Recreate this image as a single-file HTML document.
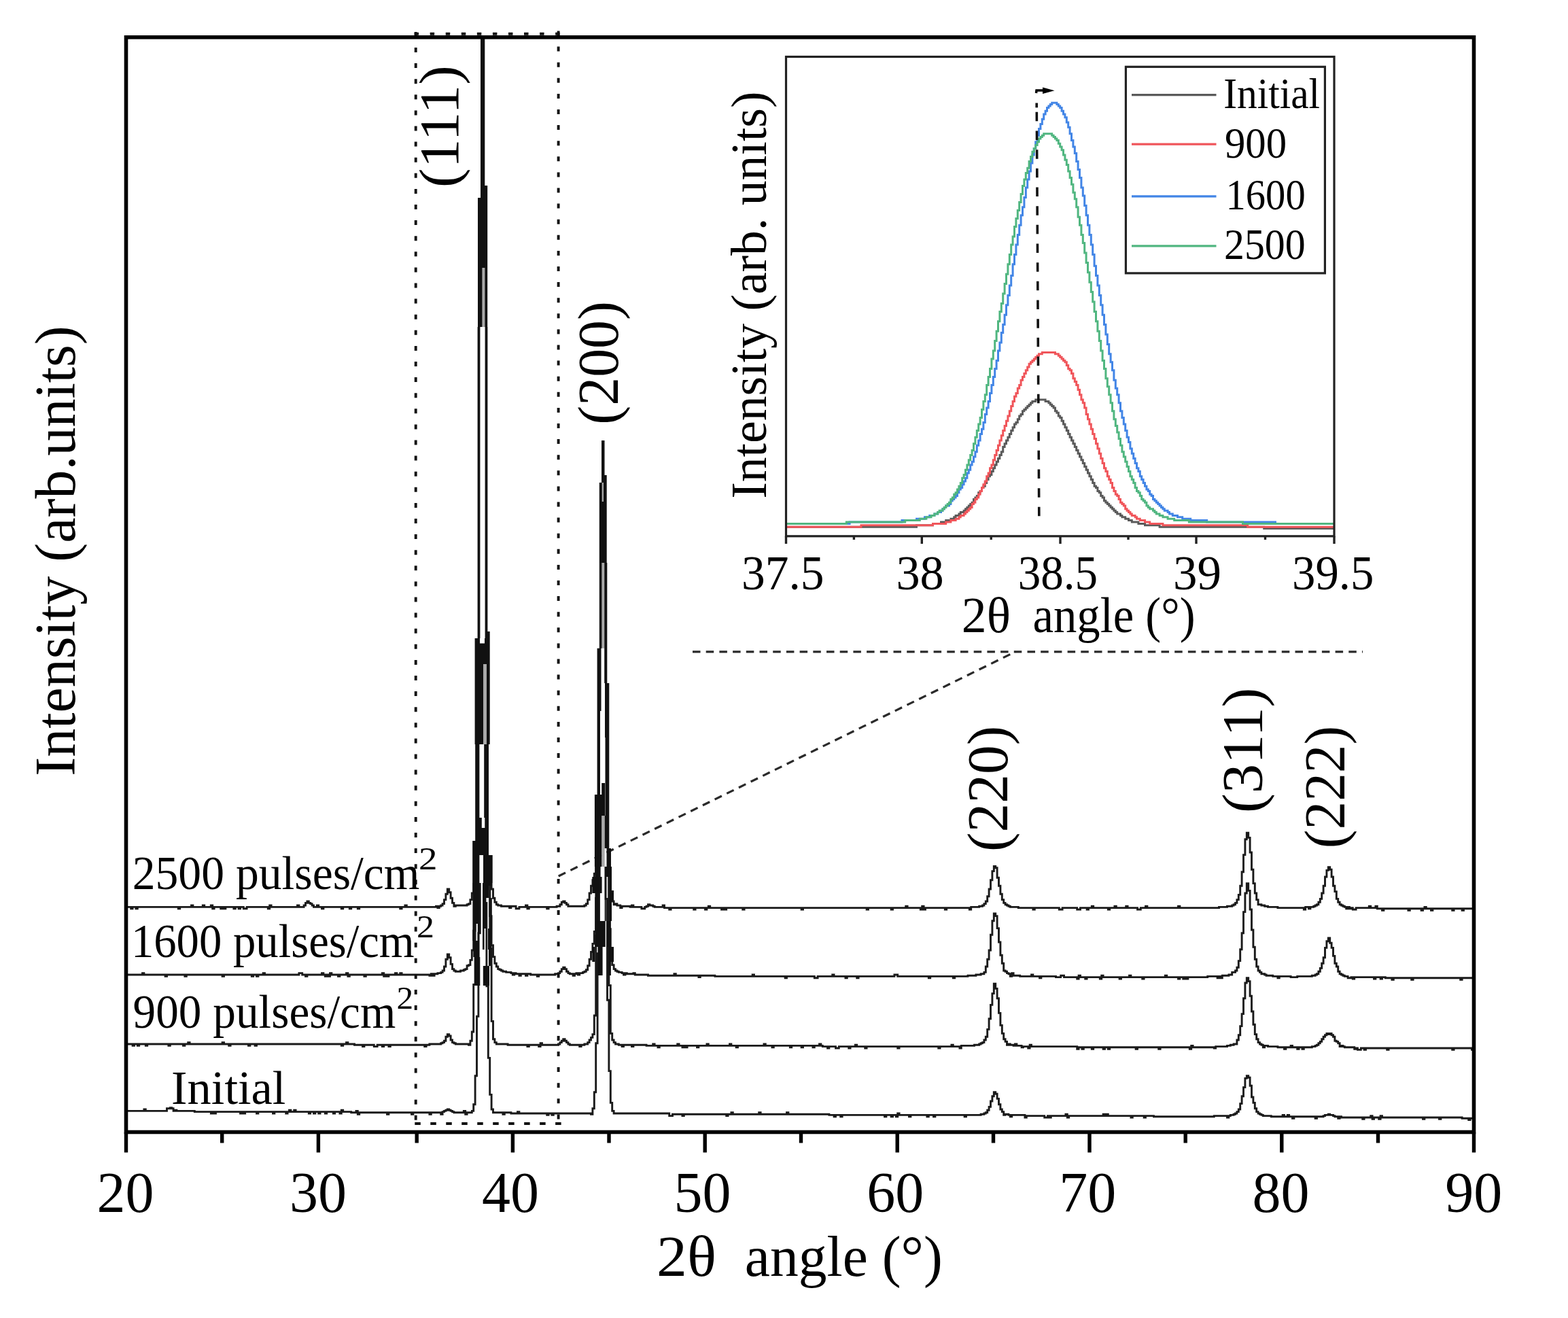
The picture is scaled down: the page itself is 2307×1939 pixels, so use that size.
<!DOCTYPE html><html><head><meta charset="utf-8"><title>XRD</title><style>html,body{margin:0;padding:0;background:#fff;overflow:hidden}svg{display:block}text{font-family:'Liberation Serif','Times New Roman',serif}</style></head><body>
<svg width="2307" height="1939" viewBox="0 0 2307 1939">
<rect width="2307" height="1939" fill="#fff"/>
<defs><clipPath id="cf"><path clip-rule="evenodd" d="M185.5 54.8H2168.5V1665.5H185.5ZM694.5 54.0H726.0V1299.0H694.5ZM873.5 640.0H900.0V1275.0H873.5Z"/></clipPath>
<clipPath id="ci"><rect x="1156.5" y="83.5" width="806.5" height="705.3"/></clipPath></defs>
<g fill="none" stroke="#2a2a2a" stroke-width="3.2" stroke-dasharray="11.5 8.2">
<line x1="1019" y1="958.8" x2="2005" y2="958.8"/>
<line x1="821.7" y1="1289" x2="1494" y2="958.8"/>
</g>
<g clip-path="url(#cf)" fill="none" stroke="#1a1a1a" stroke-width="2.9" stroke-linejoin="miter" stroke-linecap="butt">
<path d="M185.5 1334.4H187.9V1334.4H190.3V1334.4H192.7V1336.8H195.1V1334.4H197.5V1334.4H199.9V1336.8H202.3V1334.4H204.7V1334.4H207.1V1334.4H209.5V1334.4H211.9V1334.4H214.3V1334.4H216.7V1334.4H219.1V1334.4H221.5V1334.4H223.9V1334.4H226.3V1334.4H228.7V1334.4H231.1V1334.4H233.5V1334.4H235.9V1334.4H238.3V1334.4H240.7V1334.4H243.1V1334.4H245.5V1334.4H247.9V1334.4H250.3V1334.4H252.7V1334.4H255.1V1334.4H257.5V1334.4H259.9V1334.4H262.3V1336.8H264.7V1334.4H267.1V1334.4H269.5V1334.4H271.9V1334.4H274.3V1334.4H276.7V1334.4H279.1V1334.4H281.5V1332.0H283.9V1334.4H286.3V1334.4H288.7V1334.4H291.1V1334.4H293.5V1334.4H295.9V1334.4H298.3V1332.0H300.7V1334.4H303.1V1334.4H305.5V1334.4H307.9V1334.4H310.3V1332.0H312.7V1336.8H315.1V1334.4H317.5V1334.4H319.9V1334.4H322.3V1334.4H324.7V1336.8H327.1V1334.4H329.5V1336.8H331.9V1334.4H334.3V1334.4H336.7V1334.4H339.1V1334.4H341.5V1334.4H343.9V1336.8H346.3V1334.4H348.7V1334.4H351.1V1336.8H353.5V1334.4H355.9V1334.4H358.3V1336.8H360.7V1336.8H363.1V1334.4H365.5V1334.4H367.9V1334.4H370.3V1334.4H372.7V1334.4H375.1V1334.4H377.5V1334.4H379.9V1334.4H382.3V1334.4H384.7V1334.4H387.1V1334.4H389.5V1334.4H391.9V1334.4H394.3V1336.8H396.7V1332.0H399.1V1334.4H401.5V1334.4H403.9V1334.4H406.3V1334.4H408.7V1334.4H411.1V1334.4H413.5V1334.4H415.9V1334.4H418.3V1334.4H420.7V1334.4H423.1V1334.4H425.5V1334.4H427.9V1334.4H430.3V1334.4H432.7V1334.4H435.1V1334.4H437.5V1332.0H439.9V1334.4H442.3V1334.4H444.7V1334.4H447.1V1332.0H449.5V1328.4H451.9V1326.0H454.3V1328.4H456.7V1329.6H459.1V1332.0H461.5V1334.4H463.9V1334.4H466.3V1332.0H468.7V1334.4H471.1V1334.4H473.5V1336.8H475.9V1334.4H478.3V1334.4H480.7V1334.4H483.1V1334.4H485.5V1334.4H487.9V1334.4H490.3V1334.4H492.7V1334.4H495.1V1334.4H497.5V1334.4H499.9V1334.4H502.3V1336.8H504.7V1334.4H507.1V1334.4H509.5V1334.4H511.9V1334.4H514.3V1336.8H516.7V1334.4H519.1V1334.4H521.5V1334.4H523.9V1334.4H526.3V1336.8H528.7V1334.4H531.1V1334.4H533.5V1334.4H535.9V1334.4H538.3V1334.4H540.7V1334.4H543.1V1334.4H545.5V1334.4H547.9V1334.4H550.3V1334.4H552.7V1334.4H555.1V1334.4H557.5V1334.4H559.9V1334.4H562.3V1334.4H564.7V1334.4H567.1V1334.4H569.5V1334.4H571.9V1334.4H574.3V1334.4H576.7V1334.4H579.1V1334.4H581.5V1334.4H583.9V1334.4H586.3V1334.4H588.7V1336.8H591.1V1334.4H593.5V1334.4H595.9V1332.0H598.3V1334.4H600.7V1334.4H603.1V1334.4H605.5V1334.4H607.9V1334.4H610.3V1334.4H612.7V1334.4H615.1V1334.4H617.5V1334.4H619.9V1334.4H622.3V1334.4H624.7V1334.4H627.1V1334.4H629.5V1334.4H631.9V1334.4H634.3V1334.4H636.7V1334.4H639.1V1334.4H641.5V1333.2H643.9V1335.6H646.3V1333.2H648.7V1332.0H651.1V1329.6H653.5V1323.6H655.9V1315.2H658.3V1308.0H660.7V1312.8H663.1V1321.2H665.5V1328.4H667.9V1333.2H670.3V1332.0H672.7V1332.0H675.1V1332.0H677.5V1332.0H679.9V1332.0H682.3V1332.0H684.7V1332.0H687.1V1330.8H689.5V1329.6H691.9V1323.6H694.3V1314.0H696.7V1286.4H699.1V1171.2H701.5V889.2H703.9V534.0H706.3V324.0H708.7V277.2H711.1V290.4H713.5V434.4H715.9V752.4H718.3V1084.8H720.7V1260.0H723.1V1308.0H725.5V1321.2H727.9V1327.2H730.3V1330.8H732.7V1332.0H735.1V1332.0H737.5V1333.2H739.9V1333.2H742.3V1333.2H744.7V1333.2H747.1V1333.2H749.5V1335.6H751.9V1333.2H754.3V1333.2H756.7V1333.2H759.1V1336.8H761.5V1336.8H763.9V1334.4H766.3V1334.4H768.7V1334.4H771.1V1334.4H773.5V1332.0H775.9V1336.8H778.3V1334.4H780.7V1334.4H783.1V1334.4H785.5V1334.4H787.9V1334.4H790.3V1334.4H792.7V1334.4H795.1V1334.4H797.5V1334.4H799.9V1334.4H802.3V1334.4H804.7V1336.8H807.1V1334.4H809.5V1334.4H811.9V1334.4H814.3V1334.4H816.7V1334.4H819.1V1333.2H821.5V1333.2H823.9V1330.8H826.3V1327.2H828.7V1326.0H831.1V1328.4H833.5V1330.8H835.9V1333.2H838.3V1333.2H840.7V1333.2H843.1V1333.2H845.5V1333.2H847.9V1333.2H850.3V1333.2H852.7V1333.2H855.1V1333.2H857.5V1333.2H859.9V1332.0H862.3V1329.6H864.7V1323.6H867.1V1314.0H869.5V1303.2H871.9V1294.8H874.3V1285.2H876.7V1234.8H879.1V1057.2H881.5V828.0H883.9V711.6H886.3V700.8H888.7V748.8H891.1V934.8H893.5V1167.6H895.9V1288.8H898.3V1317.6H900.7V1326.0H903.1V1330.8H905.5V1329.6H907.9V1332.0H910.3V1332.0H912.7V1335.6H915.1V1333.2H917.5V1333.2H919.9V1333.2H922.3V1333.2H924.7V1333.2H927.1V1334.4H929.5V1332.0H931.9V1334.4H934.3V1334.4H936.7V1334.4H939.1V1334.4H941.5V1334.4H943.9V1336.8H946.3V1336.8H948.7V1334.4H951.1V1333.2H953.5V1330.8H955.9V1332.0H958.3V1332.0H960.7V1333.2H963.1V1334.4H965.5V1334.4H967.9V1334.4H970.3V1334.4H972.7V1334.4H975.1V1332.0H977.5V1335.6H979.9V1335.6H982.3V1335.6H984.7V1338.0H987.1V1335.6H989.5V1335.6H991.9V1335.6H994.3V1335.6H996.7V1335.6H999.1V1335.6H1001.5V1335.6H1003.9V1335.6H1006.3V1335.6H1008.7V1335.6H1011.1V1335.6H1013.5V1335.6H1015.9V1335.6H1018.3V1335.6H1020.7V1338.0H1023.1V1335.6H1025.5V1335.6H1027.9V1335.6H1030.3V1335.6H1032.7V1335.6H1035.1V1335.6H1037.5V1338.0H1039.9V1335.6H1042.3V1333.2H1044.7V1335.6H1047.1V1335.6H1049.5V1335.6H1051.9V1335.6H1054.3V1335.6H1056.7V1335.6H1059.1V1335.6H1061.5V1338.0H1063.9V1335.6H1066.3V1338.0H1068.7V1335.6H1071.1V1335.6H1073.5V1335.6H1075.9V1335.6H1078.3V1335.6H1080.7V1335.6H1083.1V1335.6H1085.5V1335.6H1087.9V1335.6H1090.3V1335.6H1092.7V1338.0H1095.1V1335.6H1097.5V1335.6H1099.9V1335.6H1102.3V1335.6H1104.7V1335.6H1107.1V1335.6H1109.5V1335.6H1111.9V1335.6H1114.3V1335.6H1116.7V1335.6H1119.1V1335.6H1121.5V1335.6H1123.9V1335.6H1126.3V1335.6H1128.7V1335.6H1131.1V1335.6H1133.5V1335.6H1135.9V1335.6H1138.3V1335.6H1140.7V1335.6H1143.1V1335.6H1145.5V1335.6H1147.9V1335.6H1150.3V1335.6H1152.7V1335.6H1155.1V1335.6H1157.5V1335.6H1159.9V1335.6H1162.3V1335.6H1164.7V1335.6H1167.1V1335.6H1169.5V1335.6H1171.9V1335.6H1174.3V1335.6H1176.7V1335.6H1179.1V1338.0H1181.5V1335.6H1183.9V1335.6H1186.3V1335.6H1188.7V1335.6H1191.1V1335.6H1193.5V1335.6H1195.9V1335.6H1198.3V1335.6H1200.7V1335.6H1203.1V1335.6H1205.5V1335.6H1207.9V1335.6H1210.3V1335.6H1212.7V1335.6H1215.1V1335.6H1217.5V1335.6H1219.9V1335.6H1222.3V1335.6H1224.7V1335.6H1227.1V1335.6H1229.5V1335.6H1231.9V1335.6H1234.3V1335.6H1236.7V1335.6H1239.1V1335.6H1241.5V1335.6H1243.9V1335.6H1246.3V1335.6H1248.7V1335.6H1251.1V1335.6H1253.5V1335.6H1255.9V1335.6H1258.3V1335.6H1260.7V1335.6H1263.1V1335.6H1265.5V1335.6H1267.9V1335.6H1270.3V1335.6H1272.7V1335.6H1275.1V1338.0H1277.5V1335.6H1279.9V1335.6H1282.3V1335.6H1284.7V1335.6H1287.1V1335.6H1289.5V1335.6H1291.9V1335.6H1294.3V1335.6H1296.7V1335.6H1299.1V1335.6H1301.5V1335.6H1303.9V1335.6H1306.3V1335.6H1308.7V1335.6H1311.1V1338.0H1313.5V1335.6H1315.9V1335.6H1318.3V1335.6H1320.7V1335.6H1323.1V1335.6H1325.5V1335.6H1327.9V1335.6H1330.3V1335.6H1332.7V1333.2H1335.1V1335.6H1337.5V1335.6H1339.9V1335.6H1342.3V1335.6H1344.7V1335.6H1347.1V1335.6H1349.5V1335.6H1351.9V1335.6H1354.3V1338.0H1356.7V1333.2H1359.1V1338.0H1361.5V1335.6H1363.9V1335.6H1366.3V1335.6H1368.7V1335.6H1371.1V1335.6H1373.5V1335.6H1375.9V1335.6H1378.3V1335.6H1380.7V1335.6H1383.1V1335.6H1385.5V1335.6H1387.9V1335.6H1390.3V1338.0H1392.7V1335.6H1395.1V1335.6H1397.5V1335.6H1399.9V1335.6H1402.3V1335.6H1404.7V1335.6H1407.1V1335.6H1409.5V1335.6H1411.9V1335.6H1414.3V1335.6H1416.7V1335.6H1419.1V1335.6H1421.5V1335.6H1423.9V1335.6H1426.3V1338.0H1428.7V1334.4H1431.1V1334.4H1433.5V1334.4H1435.9V1334.4H1438.3V1334.4H1440.7V1333.2H1443.1V1333.2H1445.5V1332.0H1447.9V1329.6H1450.3V1326.0H1452.7V1318.8H1455.1V1308.0H1457.5V1294.8H1459.9V1281.6H1462.3V1274.4H1464.7V1276.8H1467.1V1291.2H1469.5V1303.2H1471.9V1315.2H1474.3V1323.6H1476.7V1328.4H1479.1V1330.8H1481.5V1332.0H1483.9V1333.2H1486.3V1334.4H1488.7V1334.4H1491.1V1334.4H1493.5V1334.4H1495.9V1334.4H1498.3V1335.6H1500.7V1335.6H1503.1V1335.6H1505.5V1335.6H1507.9V1335.6H1510.3V1335.6H1512.7V1335.6H1515.1V1335.6H1517.5V1335.6H1519.9V1338.0H1522.3V1335.6H1524.7V1335.6H1527.1V1335.6H1529.5V1335.6H1531.9V1335.6H1534.3V1335.6H1536.7V1335.6H1539.1V1335.6H1541.5V1335.6H1543.9V1335.6H1546.3V1335.6H1548.7V1335.6H1551.1V1335.6H1553.5V1335.6H1555.9V1335.6H1558.3V1338.0H1560.7V1338.0H1563.1V1335.6H1565.5V1335.6H1567.9V1335.6H1570.3V1335.6H1572.7V1335.6H1575.1V1335.6H1577.5V1335.6H1579.9V1335.6H1582.3V1335.6H1584.7V1338.0H1587.1V1338.0H1589.5V1335.6H1591.9V1335.6H1594.3V1335.6H1596.7V1335.6H1599.1V1338.0H1601.5V1335.6H1603.9V1335.6H1606.3V1333.2H1608.7V1335.6H1611.1V1335.6H1613.5V1335.6H1615.9V1335.6H1618.3V1335.6H1620.7V1335.6H1623.1V1335.6H1625.5V1335.6H1627.9V1335.6H1630.3V1338.0H1632.7V1335.6H1635.1V1335.6H1637.5V1335.6H1639.9V1333.2H1642.3V1335.6H1644.7V1335.6H1647.1V1335.6H1649.5V1335.6H1651.9V1335.6H1654.3V1335.6H1656.7V1333.2H1659.1V1335.6H1661.5V1335.6H1663.9V1335.6H1666.3V1335.6H1668.7V1335.6H1671.1V1335.6H1673.5V1338.0H1675.9V1338.0H1678.3V1335.6H1680.7V1335.6H1683.1V1335.6H1685.5V1333.2H1687.9V1335.6H1690.3V1335.6H1692.7V1335.6H1695.1V1335.6H1697.5V1335.6H1699.9V1335.6H1702.3V1335.6H1704.7V1335.6H1707.1V1335.6H1709.5V1335.6H1711.9V1335.6H1714.3V1335.6H1716.7V1335.6H1719.1V1335.6H1721.5V1335.6H1723.9V1335.6H1726.3V1335.6H1728.7V1335.6H1731.1V1335.6H1733.5V1333.2H1735.9V1335.6H1738.3V1335.6H1740.7V1335.6H1743.1V1335.6H1745.5V1335.6H1747.9V1335.6H1750.3V1335.6H1752.7V1335.6H1755.1V1335.6H1757.5V1335.6H1759.9V1335.6H1762.3V1335.6H1764.7V1335.6H1767.1V1335.6H1769.5V1335.6H1771.9V1335.6H1774.3V1335.6H1776.7V1335.6H1779.1V1335.6H1781.5V1335.6H1783.9V1335.6H1786.3V1335.6H1788.7V1335.6H1791.1V1335.6H1793.5V1334.4H1795.9V1334.4H1798.3V1334.4H1800.7V1334.4H1803.1V1334.4H1805.5V1333.2H1807.9V1333.2H1810.3V1333.2H1812.7V1332.0H1815.1V1330.8H1817.5V1328.4H1819.9V1323.6H1822.3V1316.4H1824.7V1303.2H1827.1V1282.8H1829.5V1257.6H1831.9V1234.8H1834.3V1225.2H1836.7V1232.4H1839.1V1254.0H1841.5V1279.2H1843.9V1299.6H1846.3V1314.0H1848.7V1323.6H1851.1V1330.8H1853.5V1330.8H1855.9V1332.0H1858.3V1332.0H1860.7V1333.2H1863.1V1333.2H1865.5V1334.4H1867.9V1334.4H1870.3V1334.4H1872.7V1334.4H1875.1V1334.4H1877.5V1334.4H1879.9V1335.6H1882.3V1335.6H1884.7V1335.6H1887.1V1335.6H1889.5V1335.6H1891.9V1335.6H1894.3V1335.6H1896.7V1335.6H1899.1V1335.6H1901.5V1335.6H1903.9V1335.6H1906.3V1335.6H1908.7V1335.6H1911.1V1335.6H1913.5V1335.6H1915.9V1335.6H1918.3V1338.0H1920.7V1334.4H1923.1V1334.4H1925.5V1336.8H1927.9V1334.4H1930.3V1334.4H1932.7V1333.2H1935.1V1332.0H1937.5V1330.8H1939.9V1327.2H1942.3V1322.4H1944.7V1314.0H1947.1V1303.2H1949.5V1290.0H1951.9V1280.4H1954.3V1275.6H1956.7V1279.2H1959.1V1290.0H1961.5V1303.2H1963.9V1311.6H1966.3V1322.4H1968.7V1327.2H1971.1V1330.8H1973.5V1332.0H1975.9V1333.2H1978.3V1334.4H1980.7V1336.8H1983.1V1334.4H1985.5V1336.8H1987.9V1335.6H1990.3V1338.0H1992.7V1338.0H1995.1V1335.6H1997.5V1335.6H1999.9V1335.6H2002.3V1335.6H2004.7V1335.6H2007.1V1335.6H2009.5V1335.6H2011.9V1335.6H2014.3V1333.2H2016.7V1335.6H2019.1V1335.6H2021.5V1335.6H2023.9V1333.2H2026.3V1336.8H2028.7V1336.8H2031.1V1336.8H2033.5V1339.2H2035.9V1336.8H2038.3V1336.8H2040.7V1336.8H2043.1V1336.8H2045.5V1336.8H2047.9V1336.8H2050.3V1336.8H2052.7V1336.8H2055.1V1336.8H2057.5V1336.8H2059.9V1336.8H2062.3V1336.8H2064.7V1336.8H2067.1V1336.8H2069.5V1336.8H2071.9V1339.2H2074.3V1336.8H2076.7V1336.8H2079.1V1336.8H2081.5V1336.8H2083.9V1336.8H2086.3V1336.8H2088.7V1336.8H2091.1V1339.2H2093.5V1336.8H2095.9V1334.4H2098.3V1336.8H2100.7V1336.8H2103.1V1336.8H2105.5V1339.2H2107.9V1336.8H2110.3V1336.8H2112.7V1336.8H2115.1V1336.8H2117.5V1336.8H2119.9V1336.8H2122.3V1336.8H2124.7V1336.8H2127.1V1336.8H2129.5V1336.8H2131.9V1336.8H2134.3V1336.8H2136.7V1339.2H2139.1V1336.8H2141.5V1336.8H2143.9V1336.8H2146.3V1336.8H2148.7V1336.8H2151.1V1339.2H2153.5V1336.8H2155.9V1336.8H2158.3V1336.8H2160.7V1336.8H2163.1V1336.8H2165.5V1336.8H2167.9"/>
<path d="M185.5 1434.0H187.9V1434.0H190.3V1434.0H192.7V1434.0H195.1V1434.0H197.5V1434.0H199.9V1434.0H202.3V1434.0H204.7V1434.0H207.1V1434.0H209.5V1431.6H211.9V1434.0H214.3V1434.0H216.7V1434.0H219.1V1434.0H221.5V1434.0H223.9V1434.0H226.3V1434.0H228.7V1434.0H231.1V1434.0H233.5V1434.0H235.9V1434.0H238.3V1434.0H240.7V1434.0H243.1V1436.4H245.5V1434.0H247.9V1434.0H250.3V1434.0H252.7V1434.0H255.1V1434.0H257.5V1434.0H259.9V1434.0H262.3V1434.0H264.7V1434.0H267.1V1434.0H269.5V1434.0H271.9V1436.4H274.3V1434.0H276.7V1434.0H279.1V1434.0H281.5V1434.0H283.9V1434.0H286.3V1434.0H288.7V1434.0H291.1V1434.0H293.5V1434.0H295.9V1434.0H298.3V1434.0H300.7V1434.0H303.1V1434.0H305.5V1434.0H307.9V1434.0H310.3V1434.0H312.7V1434.0H315.1V1434.0H317.5V1434.0H319.9V1434.0H322.3V1434.0H324.7V1434.0H327.1V1436.4H329.5V1434.0H331.9V1434.0H334.3V1434.0H336.7V1434.0H339.1V1434.0H341.5V1434.0H343.9V1434.0H346.3V1434.0H348.7V1434.0H351.1V1434.0H353.5V1434.0H355.9V1434.0H358.3V1434.0H360.7V1434.0H363.1V1434.0H365.5V1434.0H367.9V1434.0H370.3V1436.4H372.7V1434.0H375.1V1434.0H377.5V1436.4H379.9V1434.0H382.3V1434.0H384.7V1434.0H387.1V1431.6H389.5V1434.0H391.9V1434.0H394.3V1434.0H396.7V1434.0H399.1V1434.0H401.5V1434.0H403.9V1434.0H406.3V1434.0H408.7V1434.0H411.1V1434.0H413.5V1434.0H415.9V1434.0H418.3V1434.0H420.7V1434.0H423.1V1434.0H425.5V1434.0H427.9V1434.0H430.3V1434.0H432.7V1434.0H435.1V1434.0H437.5V1434.0H439.9V1431.6H442.3V1431.6H444.7V1434.0H447.1V1434.0H449.5V1436.4H451.9V1434.0H454.3V1434.0H456.7V1434.0H459.1V1434.0H461.5V1434.0H463.9V1434.0H466.3V1434.0H468.7V1434.0H471.1V1434.0H473.5V1431.6H475.9V1434.0H478.3V1436.4H480.7V1434.0H483.1V1436.4H485.5V1431.6H487.9V1434.0H490.3V1434.0H492.7V1434.0H495.1V1434.0H497.5V1436.4H499.9V1434.0H502.3V1434.0H504.7V1434.0H507.1V1434.0H509.5V1431.6H511.9V1436.4H514.3V1434.0H516.7V1434.0H519.1V1434.0H521.5V1434.0H523.9V1434.0H526.3V1434.0H528.7V1434.0H531.1V1434.0H533.5V1434.0H535.9V1436.4H538.3V1434.0H540.7V1434.0H543.1V1434.0H545.5V1434.0H547.9V1434.0H550.3V1434.0H552.7V1434.0H555.1V1434.0H557.5V1434.0H559.9V1434.0H562.3V1431.6H564.7V1436.4H567.1V1434.0H569.5V1436.4H571.9V1434.0H574.3V1434.0H576.7V1434.0H579.1V1434.0H581.5V1431.6H583.9V1434.0H586.3V1434.0H588.7V1431.6H591.1V1434.0H593.5V1434.0H595.9V1434.0H598.3V1434.0H600.7V1434.0H603.1V1434.0H605.5V1434.0H607.9V1434.0H610.3V1434.0H612.7V1434.0H615.1V1434.0H617.5V1434.0H619.9V1434.0H622.3V1434.0H624.7V1434.0H627.1V1434.0H629.5V1434.0H631.9V1435.2H634.3V1432.8H636.7V1435.2H639.1V1432.8H641.5V1432.8H643.9V1431.6H646.3V1431.6H648.7V1430.4H651.1V1428.0H653.5V1422.0H655.9V1411.2H658.3V1404.0H660.7V1408.8H663.1V1418.4H665.5V1425.6H667.9V1428.0H670.3V1429.2H672.7V1429.2H675.1V1429.2H677.5V1428.0H679.9V1428.0H682.3V1426.8H684.7V1425.6H687.1V1420.8H689.5V1419.6H691.9V1412.4H694.3V1398.0H696.7V1369.2H699.1V1286.4H701.5V1070.4H703.9V654.0H706.3V128.4H708.7V-193.2H711.1V-32.4H713.5V459.6H715.9V939.6H718.3V1226.4H720.7V1347.6H723.1V1390.8H725.5V1407.6H727.9V1417.2H730.3V1422.0H732.7V1425.6H735.1V1426.8H737.5V1428.0H739.9V1429.2H742.3V1429.2H744.7V1430.4H747.1V1430.4H749.5V1430.4H751.9V1431.6H754.3V1434.0H756.7V1431.6H759.1V1432.8H761.5V1432.8H763.9V1435.2H766.3V1432.8H768.7V1432.8H771.1V1432.8H773.5V1435.2H775.9V1432.8H778.3V1432.8H780.7V1434.0H783.1V1434.0H785.5V1434.0H787.9V1434.0H790.3V1436.4H792.7V1434.0H795.1V1434.0H797.5V1434.0H799.9V1434.0H802.3V1434.0H804.7V1434.0H807.1V1434.0H809.5V1434.0H811.9V1434.0H814.3V1434.0H816.7V1432.8H819.1V1432.8H821.5V1431.6H823.9V1429.2H826.3V1425.6H828.7V1423.2H831.1V1425.6H833.5V1429.2H835.9V1431.6H838.3V1432.8H840.7V1432.8H843.1V1435.2H845.5V1432.8H847.9V1431.6H850.3V1434.0H852.7V1431.6H855.1V1431.6H857.5V1430.4H859.9V1429.2H862.3V1426.8H864.7V1420.8H867.1V1411.2H869.5V1400.4H871.9V1388.4H874.3V1370.4H876.7V1321.2H879.1V1192.8H881.5V963.6H883.9V722.4H886.3V654.0H888.7V829.2H891.1V1086.0H893.5V1275.6H895.9V1366.8H898.3V1405.2H900.7V1419.6H903.1V1425.6H905.5V1428.0H907.9V1429.2H910.3V1430.4H912.7V1430.4H915.1V1431.6H917.5V1434.0H919.9V1431.6H922.3V1432.8H924.7V1432.8H927.1V1432.8H929.5V1432.8H931.9V1431.6H934.3V1434.0H936.7V1434.0H939.1V1434.0H941.5V1434.0H943.9V1434.0H946.3V1434.0H948.7V1434.0H951.1V1434.0H953.5V1435.2H955.9V1435.2H958.3V1435.2H960.7V1435.2H963.1V1435.2H965.5V1435.2H967.9V1435.2H970.3V1435.2H972.7V1435.2H975.1V1435.2H977.5V1435.2H979.9V1435.2H982.3V1435.2H984.7V1435.2H987.1V1435.2H989.5V1435.2H991.9V1432.8H994.3V1435.2H996.7V1435.2H999.1V1435.2H1001.5V1435.2H1003.9V1435.2H1006.3V1435.2H1008.7V1435.2H1011.1V1435.2H1013.5V1435.2H1015.9V1435.2H1018.3V1435.2H1020.7V1435.2H1023.1V1435.2H1025.5V1435.2H1027.9V1437.6H1030.3V1435.2H1032.7V1435.2H1035.1V1435.2H1037.5V1435.2H1039.9V1435.2H1042.3V1435.2H1044.7V1435.2H1047.1V1435.2H1049.5V1435.2H1051.9V1436.4H1054.3V1436.4H1056.7V1436.4H1059.1V1436.4H1061.5V1436.4H1063.9V1436.4H1066.3V1436.4H1068.7V1436.4H1071.1V1436.4H1073.5V1436.4H1075.9V1436.4H1078.3V1436.4H1080.7V1436.4H1083.1V1436.4H1085.5V1436.4H1087.9V1436.4H1090.3V1436.4H1092.7V1436.4H1095.1V1436.4H1097.5V1436.4H1099.9V1436.4H1102.3V1436.4H1104.7V1436.4H1107.1V1434.0H1109.5V1436.4H1111.9V1436.4H1114.3V1436.4H1116.7V1436.4H1119.1V1436.4H1121.5V1436.4H1123.9V1436.4H1126.3V1436.4H1128.7V1436.4H1131.1V1436.4H1133.5V1436.4H1135.9V1436.4H1138.3V1436.4H1140.7V1436.4H1143.1V1436.4H1145.5V1436.4H1147.9V1436.4H1150.3V1436.4H1152.7V1436.4H1155.1V1438.8H1157.5V1436.4H1159.9V1436.4H1162.3V1436.4H1164.7V1436.4H1167.1V1436.4H1169.5V1436.4H1171.9V1436.4H1174.3V1436.4H1176.7V1436.4H1179.1V1436.4H1181.5V1436.4H1183.9V1436.4H1186.3V1436.4H1188.7V1436.4H1191.1V1436.4H1193.5V1436.4H1195.9V1436.4H1198.3V1438.8H1200.7V1438.8H1203.1V1436.4H1205.5V1436.4H1207.9V1436.4H1210.3V1436.4H1212.7V1436.4H1215.1V1436.4H1217.5V1436.4H1219.9V1436.4H1222.3V1436.4H1224.7V1434.0H1227.1V1436.4H1229.5V1436.4H1231.9V1436.4H1234.3V1436.4H1236.7V1436.4H1239.1V1436.4H1241.5V1436.4H1243.9V1438.8H1246.3V1436.4H1248.7V1436.4H1251.1V1436.4H1253.5V1436.4H1255.9V1436.4H1258.3V1436.4H1260.7V1438.8H1263.1V1436.4H1265.5V1436.4H1267.9V1436.4H1270.3V1436.4H1272.7V1436.4H1275.1V1436.4H1277.5V1436.4H1279.9V1436.4H1282.3V1436.4H1284.7V1436.4H1287.1V1436.4H1289.5V1436.4H1291.9V1436.4H1294.3V1436.4H1296.7V1436.4H1299.1V1436.4H1301.5V1436.4H1303.9V1436.4H1306.3V1436.4H1308.7V1436.4H1311.1V1436.4H1313.5V1436.4H1315.9V1434.0H1318.3V1434.0H1320.7V1436.4H1323.1V1436.4H1325.5V1436.4H1327.9V1436.4H1330.3V1436.4H1332.7V1436.4H1335.1V1436.4H1337.5V1436.4H1339.9V1436.4H1342.3V1436.4H1344.7V1436.4H1347.1V1436.4H1349.5V1436.4H1351.9V1436.4H1354.3V1436.4H1356.7V1436.4H1359.1V1436.4H1361.5V1436.4H1363.9V1436.4H1366.3V1438.8H1368.7V1436.4H1371.1V1436.4H1373.5V1436.4H1375.9V1436.4H1378.3V1436.4H1380.7V1436.4H1383.1V1436.4H1385.5V1436.4H1387.9V1436.4H1390.3V1436.4H1392.7V1436.4H1395.1V1436.4H1397.5V1436.4H1399.9V1436.4H1402.3V1438.8H1404.7V1436.4H1407.1V1436.4H1409.5V1436.4H1411.9V1436.4H1414.3V1436.4H1416.7V1436.4H1419.1V1436.4H1421.5V1436.4H1423.9V1435.2H1426.3V1435.2H1428.7V1435.2H1431.1V1435.2H1433.5V1435.2H1435.9V1434.0H1438.3V1434.0H1440.7V1434.0H1443.1V1432.8H1445.5V1432.8H1447.9V1430.4H1450.3V1422.0H1452.7V1411.2H1455.1V1398.0H1457.5V1375.2H1459.9V1354.8H1462.3V1344.0H1464.7V1347.6H1467.1V1365.6H1469.5V1386.0H1471.9V1405.2H1474.3V1417.2H1476.7V1428.0H1479.1V1429.2H1481.5V1431.6H1483.9V1432.8H1486.3V1436.4H1488.7V1431.6H1491.1V1435.2H1493.5V1435.2H1495.9V1435.2H1498.3V1435.2H1500.7V1436.4H1503.1V1436.4H1505.5V1436.4H1507.9V1436.4H1510.3V1436.4H1512.7V1436.4H1515.1V1436.4H1517.5V1434.0H1519.9V1436.4H1522.3V1436.4H1524.7V1436.4H1527.1V1436.4H1529.5V1438.8H1531.9V1436.4H1534.3V1436.4H1536.7V1436.4H1539.1V1436.4H1541.5V1436.4H1543.9V1436.4H1546.3V1436.4H1548.7V1436.4H1551.1V1436.4H1553.5V1437.6H1555.9V1437.6H1558.3V1437.6H1560.7V1435.2H1563.1V1435.2H1565.5V1437.6H1567.9V1437.6H1570.3V1437.6H1572.7V1437.6H1575.1V1437.6H1577.5V1437.6H1579.9V1437.6H1582.3V1437.6H1584.7V1440.0H1587.1V1435.2H1589.5V1437.6H1591.9V1437.6H1594.3V1437.6H1596.7V1440.0H1599.1V1437.6H1601.5V1437.6H1603.9V1437.6H1606.3V1437.6H1608.7V1437.6H1611.1V1437.6H1613.5V1437.6H1615.9V1437.6H1618.3V1440.0H1620.7V1435.2H1623.1V1437.6H1625.5V1437.6H1627.9V1437.6H1630.3V1437.6H1632.7V1437.6H1635.1V1437.6H1637.5V1437.6H1639.9V1437.6H1642.3V1437.6H1644.7V1437.6H1647.1V1440.0H1649.5V1437.6H1651.9V1437.6H1654.3V1437.6H1656.7V1437.6H1659.1V1437.6H1661.5V1435.2H1663.9V1437.6H1666.3V1437.6H1668.7V1437.6H1671.1V1437.6H1673.5V1437.6H1675.9V1437.6H1678.3V1437.6H1680.7V1440.0H1683.1V1437.6H1685.5V1437.6H1687.9V1437.6H1690.3V1437.6H1692.7V1437.6H1695.1V1437.6H1697.5V1437.6H1699.9V1437.6H1702.3V1437.6H1704.7V1437.6H1707.1V1437.6H1709.5V1437.6H1711.9V1437.6H1714.3V1435.2H1716.7V1437.6H1719.1V1437.6H1721.5V1437.6H1723.9V1437.6H1726.3V1437.6H1728.7V1437.6H1731.1V1437.6H1733.5V1440.0H1735.9V1437.6H1738.3V1437.6H1740.7V1440.0H1743.1V1437.6H1745.5V1440.0H1747.9V1437.6H1750.3V1437.6H1752.7V1437.6H1755.1V1437.6H1757.5V1437.6H1759.9V1437.6H1762.3V1437.6H1764.7V1437.6H1767.1V1437.6H1769.5V1437.6H1771.9V1437.6H1774.3V1437.6H1776.7V1436.4H1779.1V1436.4H1781.5V1436.4H1783.9V1436.4H1786.3V1436.4H1788.7V1436.4H1791.1V1438.8H1793.5V1436.4H1795.9V1438.8H1798.3V1435.2H1800.7V1435.2H1803.1V1435.2H1805.5V1435.2H1807.9V1434.0H1810.3V1434.0H1812.7V1430.4H1815.1V1430.4H1817.5V1428.0H1819.9V1423.2H1822.3V1413.6H1824.7V1396.8H1827.1V1372.8H1829.5V1341.6H1831.9V1314.0H1834.3V1299.6H1836.7V1310.4H1839.1V1338.0H1841.5V1368.0H1843.9V1393.2H1846.3V1411.2H1848.7V1422.0H1851.1V1428.0H1853.5V1430.4H1855.9V1432.8H1858.3V1432.8H1860.7V1434.0H1863.1V1435.2H1865.5V1435.2H1867.9V1435.2H1870.3V1435.2H1872.7V1436.4H1875.1V1436.4H1877.5V1436.4H1879.9V1438.8H1882.3V1436.4H1884.7V1436.4H1887.1V1436.4H1889.5V1436.4H1891.9V1436.4H1894.3V1436.4H1896.7V1436.4H1899.1V1437.6H1901.5V1437.6H1903.9V1437.6H1906.3V1437.6H1908.7V1436.4H1911.1V1436.4H1913.5V1436.4H1915.9V1436.4H1918.3V1436.4H1920.7V1436.4H1923.1V1436.4H1925.5V1436.4H1927.9V1436.4H1930.3V1435.2H1932.7V1435.2H1935.1V1434.0H1937.5V1432.8H1939.9V1429.2H1942.3V1424.4H1944.7V1417.2H1947.1V1408.8H1949.5V1394.4H1951.9V1384.8H1954.3V1380.0H1956.7V1387.2H1959.1V1394.4H1961.5V1406.4H1963.9V1417.2H1966.3V1422.0H1968.7V1429.2H1971.1V1432.8H1973.5V1434.0H1975.9V1435.2H1978.3V1436.4H1980.7V1436.4H1983.1V1438.8H1985.5V1438.8H1987.9V1437.6H1990.3V1440.0H1992.7V1437.6H1995.1V1437.6H1997.5V1437.6H1999.9V1437.6H2002.3V1437.6H2004.7V1437.6H2007.1V1437.6H2009.5V1437.6H2011.9V1437.6H2014.3V1437.6H2016.7V1437.6H2019.1V1437.6H2021.5V1440.0H2023.9V1437.6H2026.3V1437.6H2028.7V1437.6H2031.1V1440.0H2033.5V1437.6H2035.9V1437.6H2038.3V1438.8H2040.7V1438.8H2043.1V1438.8H2045.5V1438.8H2047.9V1441.2H2050.3V1438.8H2052.7V1438.8H2055.1V1438.8H2057.5V1438.8H2059.9V1438.8H2062.3V1438.8H2064.7V1438.8H2067.1V1438.8H2069.5V1438.8H2071.9V1438.8H2074.3V1438.8H2076.7V1441.2H2079.1V1438.8H2081.5V1438.8H2083.9V1438.8H2086.3V1438.8H2088.7V1438.8H2091.1V1438.8H2093.5V1438.8H2095.9V1438.8H2098.3V1438.8H2100.7V1438.8H2103.1V1438.8H2105.5V1438.8H2107.9V1438.8H2110.3V1438.8H2112.7V1438.8H2115.1V1438.8H2117.5V1438.8H2119.9V1438.8H2122.3V1438.8H2124.7V1438.8H2127.1V1438.8H2129.5V1438.8H2131.9V1438.8H2134.3V1438.8H2136.7V1438.8H2139.1V1438.8H2141.5V1438.8H2143.9V1438.8H2146.3V1438.8H2148.7V1441.2H2151.1V1438.8H2153.5V1438.8H2155.9V1438.8H2158.3V1438.8H2160.7V1438.8H2163.1V1438.8H2165.5V1438.8H2167.9"/>
<path d="M185.5 1536.0H187.9V1536.0H190.3V1536.0H192.7V1536.0H195.1V1538.4H197.5V1536.0H199.9V1536.0H202.3V1538.4H204.7V1536.0H207.1V1536.0H209.5V1536.0H211.9V1536.0H214.3V1538.4H216.7V1536.0H219.1V1536.0H221.5V1536.0H223.9V1536.0H226.3V1536.0H228.7V1536.0H231.1V1536.0H233.5V1536.0H235.9V1536.0H238.3V1536.0H240.7V1536.0H243.1V1536.0H245.5V1536.0H247.9V1538.4H250.3V1536.0H252.7V1536.0H255.1V1536.0H257.5V1536.0H259.9V1536.0H262.3V1536.0H264.7V1536.0H267.1V1536.0H269.5V1538.4H271.9V1536.0H274.3V1536.0H276.7V1533.6H279.1V1536.0H281.5V1536.0H283.9V1536.0H286.3V1536.0H288.7V1536.0H291.1V1536.0H293.5V1536.0H295.9V1536.0H298.3V1536.0H300.7V1536.0H303.1V1536.0H305.5V1536.0H307.9V1536.0H310.3V1536.0H312.7V1536.0H315.1V1536.0H317.5V1536.0H319.9V1536.0H322.3V1536.0H324.7V1536.0H327.1V1533.6H329.5V1536.0H331.9V1536.0H334.3V1536.0H336.7V1538.4H339.1V1536.0H341.5V1536.0H343.9V1536.0H346.3V1536.0H348.7V1536.0H351.1V1536.0H353.5V1536.0H355.9V1536.0H358.3V1536.0H360.7V1536.0H363.1V1536.0H365.5V1538.4H367.9V1536.0H370.3V1536.0H372.7V1536.0H375.1V1538.4H377.5V1536.0H379.9V1536.0H382.3V1536.0H384.7V1536.0H387.1V1536.0H389.5V1536.0H391.9V1536.0H394.3V1536.0H396.7V1536.0H399.1V1536.0H401.5V1536.0H403.9V1536.0H406.3V1536.0H408.7V1536.0H411.1V1536.0H413.5V1536.0H415.9V1536.0H418.3V1536.0H420.7V1536.0H423.1V1536.0H425.5V1536.0H427.9V1536.0H430.3V1536.0H432.7V1536.0H435.1V1536.0H437.5V1536.0H439.9V1536.0H442.3V1536.0H444.7V1536.0H447.1V1536.0H449.5V1536.0H451.9V1536.0H454.3V1536.0H456.7V1536.0H459.1V1536.0H461.5V1536.0H463.9V1536.0H466.3V1536.0H468.7V1536.0H471.1V1536.0H473.5V1536.0H475.9V1536.0H478.3V1536.0H480.7V1536.0H483.1V1536.0H485.5V1536.0H487.9V1536.0H490.3V1536.0H492.7V1536.0H495.1V1536.0H497.5V1536.0H499.9V1536.0H502.3V1538.4H504.7V1536.0H507.1V1536.0H509.5V1533.6H511.9V1536.0H514.3V1536.0H516.7V1536.0H519.1V1536.0H521.5V1537.2H523.9V1537.2H526.3V1537.2H528.7V1537.2H531.1V1537.2H533.5V1539.6H535.9V1537.2H538.3V1537.2H540.7V1537.2H543.1V1537.2H545.5V1537.2H547.9V1537.2H550.3V1539.6H552.7V1539.6H555.1V1537.2H557.5V1537.2H559.9V1537.2H562.3V1539.6H564.7V1537.2H567.1V1537.2H569.5V1537.2H571.9V1539.6H574.3V1537.2H576.7V1537.2H579.1V1537.2H581.5V1537.2H583.9V1537.2H586.3V1537.2H588.7V1537.2H591.1V1537.2H593.5V1537.2H595.9V1537.2H598.3V1537.2H600.7V1537.2H603.1V1537.2H605.5V1537.2H607.9V1537.2H610.3V1537.2H612.7V1537.2H615.1V1537.2H617.5V1537.2H619.9V1537.2H622.3V1537.2H624.7V1539.6H627.1V1537.2H629.5V1537.2H631.9V1536.0H634.3V1536.0H636.7V1536.0H639.1V1536.0H641.5V1536.0H643.9V1536.0H646.3V1536.0H648.7V1534.8H651.1V1533.6H653.5V1531.2H655.9V1525.2H658.3V1521.6H660.7V1524.0H663.1V1530.0H665.5V1533.6H667.9V1534.8H670.3V1536.0H672.7V1536.0H675.1V1536.0H677.5V1536.0H679.9V1536.0H682.3V1536.0H684.7V1536.0H687.1V1536.0H689.5V1537.2H691.9V1531.2H694.3V1518.0H696.7V1448.4H699.1V1276.8H701.5V1083.6H703.9V972.0H706.3V938.4H708.7V934.8H711.1V938.4H713.5V952.8H715.9V1030.8H718.3V1200.0H720.7V1395.6H723.1V1502.4H725.5V1528.8H727.9V1533.6H730.3V1536.0H732.7V1536.0H735.1V1536.0H737.5V1536.0H739.9V1536.0H742.3V1536.0H744.7V1536.0H747.1V1537.2H749.5V1537.2H751.9V1537.2H754.3V1537.2H756.7V1537.2H759.1V1537.2H761.5V1537.2H763.9V1537.2H766.3V1537.2H768.7V1537.2H771.1V1537.2H773.5V1537.2H775.9V1539.6H778.3V1537.2H780.7V1537.2H783.1V1537.2H785.5V1537.2H787.9V1537.2H790.3V1537.2H792.7V1539.6H795.1V1534.8H797.5V1537.2H799.9V1537.2H802.3V1537.2H804.7V1537.2H807.1V1537.2H809.5V1537.2H811.9V1537.2H814.3V1537.2H816.7V1537.2H819.1V1537.2H821.5V1536.0H823.9V1533.6H826.3V1531.2H828.7V1528.8H831.1V1531.2H833.5V1533.6H835.9V1536.0H838.3V1537.2H840.7V1537.2H843.1V1537.2H845.5V1537.2H847.9V1537.2H850.3V1537.2H852.7V1539.6H855.1V1537.2H857.5V1537.2H859.9V1536.0H862.3V1536.0H864.7V1533.6H867.1V1530.0H869.5V1526.4H871.9V1521.6H874.3V1494.0H876.7V1376.4H879.1V1174.8H881.5V1026.0H883.9V980.4H886.3V978.0H888.7V992.4H891.1V1082.4H893.5V1273.2H895.9V1449.6H898.3V1520.4H900.7V1530.0H903.1V1533.6H905.5V1536.0H907.9V1536.0H910.3V1537.2H912.7V1537.2H915.1V1539.6H917.5V1537.2H919.9V1537.2H922.3V1537.2H924.7V1537.2H927.1V1537.2H929.5V1539.6H931.9V1537.2H934.3V1537.2H936.7V1537.2H939.1V1537.2H941.5V1537.2H943.9V1537.2H946.3V1537.2H948.7V1537.2H951.1V1538.4H953.5V1538.4H955.9V1538.4H958.3V1538.4H960.7V1536.0H963.1V1538.4H965.5V1538.4H967.9V1540.8H970.3V1538.4H972.7V1538.4H975.1V1538.4H977.5V1538.4H979.9V1538.4H982.3V1538.4H984.7V1538.4H987.1V1538.4H989.5V1538.4H991.9V1538.4H994.3V1538.4H996.7V1536.0H999.1V1538.4H1001.5V1538.4H1003.9V1540.8H1006.3V1538.4H1008.7V1540.8H1011.1V1538.4H1013.5V1538.4H1015.9V1538.4H1018.3V1538.4H1020.7V1538.4H1023.1V1538.4H1025.5V1540.8H1027.9V1538.4H1030.3V1538.4H1032.7V1538.4H1035.1V1538.4H1037.5V1538.4H1039.9V1536.0H1042.3V1538.4H1044.7V1538.4H1047.1V1538.4H1049.5V1538.4H1051.9V1538.4H1054.3V1538.4H1056.7V1538.4H1059.1V1538.4H1061.5V1538.4H1063.9V1538.4H1066.3V1538.4H1068.7V1538.4H1071.1V1538.4H1073.5V1536.0H1075.9V1538.4H1078.3V1538.4H1080.7V1538.4H1083.1V1540.8H1085.5V1538.4H1087.9V1538.4H1090.3V1538.4H1092.7V1538.4H1095.1V1538.4H1097.5V1538.4H1099.9V1538.4H1102.3V1538.4H1104.7V1538.4H1107.1V1538.4H1109.5V1538.4H1111.9V1538.4H1114.3V1538.4H1116.7V1538.4H1119.1V1538.4H1121.5V1538.4H1123.9V1536.0H1126.3V1538.4H1128.7V1538.4H1131.1V1538.4H1133.5V1538.4H1135.9V1540.8H1138.3V1538.4H1140.7V1538.4H1143.1V1538.4H1145.5V1538.4H1147.9V1538.4H1150.3V1538.4H1152.7V1538.4H1155.1V1538.4H1157.5V1538.4H1159.9V1538.4H1162.3V1540.8H1164.7V1538.4H1167.1V1538.4H1169.5V1538.4H1171.9V1538.4H1174.3V1538.4H1176.7V1538.4H1179.1V1540.8H1181.5V1538.4H1183.9V1538.4H1186.3V1538.4H1188.7V1538.4H1191.1V1538.4H1193.5V1538.4H1195.9V1540.8H1198.3V1538.4H1200.7V1538.4H1203.1V1538.4H1205.5V1536.0H1207.9V1538.4H1210.3V1539.6H1212.7V1539.6H1215.1V1539.6H1217.5V1542.0H1219.9V1539.6H1222.3V1539.6H1224.7V1539.6H1227.1V1539.6H1229.5V1542.0H1231.9V1542.0H1234.3V1539.6H1236.7V1539.6H1239.1V1539.6H1241.5V1539.6H1243.9V1539.6H1246.3V1539.6H1248.7V1542.0H1251.1V1539.6H1253.5V1539.6H1255.9V1539.6H1258.3V1537.2H1260.7V1539.6H1263.1V1539.6H1265.5V1539.6H1267.9V1539.6H1270.3V1539.6H1272.7V1542.0H1275.1V1539.6H1277.5V1539.6H1279.9V1539.6H1282.3V1539.6H1284.7V1539.6H1287.1V1539.6H1289.5V1539.6H1291.9V1539.6H1294.3V1539.6H1296.7V1539.6H1299.1V1539.6H1301.5V1539.6H1303.9V1539.6H1306.3V1539.6H1308.7V1539.6H1311.1V1539.6H1313.5V1539.6H1315.9V1539.6H1318.3V1539.6H1320.7V1542.0H1323.1V1539.6H1325.5V1539.6H1327.9V1539.6H1330.3V1539.6H1332.7V1539.6H1335.1V1539.6H1337.5V1539.6H1339.9V1539.6H1342.3V1539.6H1344.7V1539.6H1347.1V1539.6H1349.5V1539.6H1351.9V1539.6H1354.3V1539.6H1356.7V1539.6H1359.1V1539.6H1361.5V1539.6H1363.9V1539.6H1366.3V1539.6H1368.7V1539.6H1371.1V1539.6H1373.5V1539.6H1375.9V1539.6H1378.3V1539.6H1380.7V1542.0H1383.1V1539.6H1385.5V1539.6H1387.9V1539.6H1390.3V1539.6H1392.7V1539.6H1395.1V1539.6H1397.5V1539.6H1399.9V1537.2H1402.3V1539.6H1404.7V1539.6H1407.1V1539.6H1409.5V1539.6H1411.9V1542.0H1414.3V1538.4H1416.7V1538.4H1419.1V1538.4H1421.5V1538.4H1423.9V1538.4H1426.3V1538.4H1428.7V1538.4H1431.1V1538.4H1433.5V1537.2H1435.9V1537.2H1438.3V1537.2H1440.7V1536.0H1443.1V1534.8H1445.5V1533.6H1447.9V1530.0H1450.3V1525.2H1452.7V1514.4H1455.1V1498.8H1457.5V1478.4H1459.9V1461.6H1462.3V1447.2H1464.7V1454.4H1467.1V1468.8H1469.5V1490.4H1471.9V1508.4H1474.3V1520.4H1476.7V1528.8H1479.1V1532.4H1481.5V1537.2H1483.9V1536.0H1486.3V1537.2H1488.7V1537.2H1491.1V1538.4H1493.5V1536.0H1495.9V1538.4H1498.3V1538.4H1500.7V1538.4H1503.1V1540.8H1505.5V1539.6H1507.9V1539.6H1510.3V1539.6H1512.7V1542.0H1515.1V1537.2H1517.5V1539.6H1519.9V1539.6H1522.3V1539.6H1524.7V1539.6H1527.1V1539.6H1529.5V1539.6H1531.9V1539.6H1534.3V1539.6H1536.7V1539.6H1539.1V1539.6H1541.5V1539.6H1543.9V1539.6H1546.3V1539.6H1548.7V1539.6H1551.1V1539.6H1553.5V1539.6H1555.9V1539.6H1558.3V1539.6H1560.7V1539.6H1563.1V1539.6H1565.5V1539.6H1567.9V1539.6H1570.3V1539.6H1572.7V1539.6H1575.1V1539.6H1577.5V1539.6H1579.9V1539.6H1582.3V1539.6H1584.7V1543.2H1587.1V1540.8H1589.5V1540.8H1591.9V1543.2H1594.3V1540.8H1596.7V1540.8H1599.1V1540.8H1601.5V1540.8H1603.9V1540.8H1606.3V1543.2H1608.7V1540.8H1611.1V1540.8H1613.5V1540.8H1615.9V1540.8H1618.3V1540.8H1620.7V1540.8H1623.1V1543.2H1625.5V1540.8H1627.9V1540.8H1630.3V1543.2H1632.7V1540.8H1635.1V1540.8H1637.5V1540.8H1639.9V1540.8H1642.3V1540.8H1644.7V1540.8H1647.1V1540.8H1649.5V1540.8H1651.9V1540.8H1654.3V1540.8H1656.7V1540.8H1659.1V1540.8H1661.5V1540.8H1663.9V1540.8H1666.3V1540.8H1668.7V1540.8H1671.1V1543.2H1673.5V1540.8H1675.9V1540.8H1678.3V1540.8H1680.7V1540.8H1683.1V1540.8H1685.5V1540.8H1687.9V1540.8H1690.3V1540.8H1692.7V1540.8H1695.1V1540.8H1697.5V1540.8H1699.9V1540.8H1702.3V1540.8H1704.7V1543.2H1707.1V1540.8H1709.5V1540.8H1711.9V1540.8H1714.3V1540.8H1716.7V1540.8H1719.1V1540.8H1721.5V1540.8H1723.9V1540.8H1726.3V1540.8H1728.7V1540.8H1731.1V1540.8H1733.5V1540.8H1735.9V1540.8H1738.3V1540.8H1740.7V1540.8H1743.1V1540.8H1745.5V1540.8H1747.9V1540.8H1750.3V1543.2H1752.7V1538.4H1755.1V1540.8H1757.5V1540.8H1759.9V1540.8H1762.3V1540.8H1764.7V1540.8H1767.1V1540.8H1769.5V1540.8H1771.9V1540.8H1774.3V1540.8H1776.7V1540.8H1779.1V1540.8H1781.5V1540.8H1783.9V1540.8H1786.3V1542.0H1788.7V1539.6H1791.1V1539.6H1793.5V1539.6H1795.9V1539.6H1798.3V1539.6H1800.7V1539.6H1803.1V1539.6H1805.5V1538.4H1807.9V1538.4H1810.3V1537.2H1812.7V1537.2H1815.1V1536.0H1817.5V1536.0H1819.9V1530.0H1822.3V1522.8H1824.7V1509.6H1827.1V1491.6H1829.5V1468.8H1831.9V1446.0H1834.3V1438.8H1836.7V1443.6H1839.1V1465.2H1841.5V1488.0H1843.9V1507.2H1846.3V1521.6H1848.7V1528.8H1851.1V1533.6H1853.5V1536.0H1855.9V1537.2H1858.3V1540.8H1860.7V1538.4H1863.1V1538.4H1865.5V1539.6H1867.9V1539.6H1870.3V1539.6H1872.7V1539.6H1875.1V1539.6H1877.5V1539.6H1879.9V1540.8H1882.3V1540.8H1884.7V1540.8H1887.1V1540.8H1889.5V1543.2H1891.9V1540.8H1894.3V1540.8H1896.7V1540.8H1899.1V1538.4H1901.5V1540.8H1903.9V1540.8H1906.3V1540.8H1908.7V1543.2H1911.1V1540.8H1913.5V1540.8H1915.9V1543.2H1918.3V1540.8H1920.7V1540.8H1923.1V1540.8H1925.5V1540.8H1927.9V1540.8H1930.3V1539.6H1932.7V1539.6H1935.1V1538.4H1937.5V1537.2H1939.9V1534.8H1942.3V1532.4H1944.7V1528.8H1947.1V1525.2H1949.5V1522.8H1951.9V1520.4H1954.3V1521.6H1956.7V1520.4H1959.1V1522.8H1961.5V1525.2H1963.9V1531.2H1966.3V1532.4H1968.7V1534.8H1971.1V1539.6H1973.5V1538.4H1975.9V1539.6H1978.3V1540.8H1980.7V1540.8H1983.1V1540.8H1985.5V1540.8H1987.9V1540.8H1990.3V1540.8H1992.7V1543.2H1995.1V1542.0H1997.5V1544.4H1999.9V1544.4H2002.3V1542.0H2004.7V1542.0H2007.1V1544.4H2009.5V1542.0H2011.9V1542.0H2014.3V1542.0H2016.7V1542.0H2019.1V1542.0H2021.5V1542.0H2023.9V1542.0H2026.3V1542.0H2028.7V1542.0H2031.1V1542.0H2033.5V1542.0H2035.9V1542.0H2038.3V1542.0H2040.7V1544.4H2043.1V1542.0H2045.5V1542.0H2047.9V1542.0H2050.3V1542.0H2052.7V1542.0H2055.1V1542.0H2057.5V1542.0H2059.9V1542.0H2062.3V1542.0H2064.7V1542.0H2067.1V1542.0H2069.5V1542.0H2071.9V1542.0H2074.3V1542.0H2076.7V1542.0H2079.1V1542.0H2081.5V1542.0H2083.9V1542.0H2086.3V1542.0H2088.7V1542.0H2091.1V1542.0H2093.5V1542.0H2095.9V1542.0H2098.3V1542.0H2100.7V1542.0H2103.1V1542.0H2105.5V1542.0H2107.9V1542.0H2110.3V1542.0H2112.7V1542.0H2115.1V1542.0H2117.5V1542.0H2119.9V1542.0H2122.3V1542.0H2124.7V1542.0H2127.1V1542.0H2129.5V1542.0H2131.9V1542.0H2134.3V1542.0H2136.7V1544.4H2139.1V1542.0H2141.5V1542.0H2143.9V1542.0H2146.3V1542.0H2148.7V1542.0H2151.1V1542.0H2153.5V1542.0H2155.9V1542.0H2158.3V1542.0H2160.7V1542.0H2163.1V1542.0H2165.5V1544.4H2167.9"/>
<path d="M185.5 1634.4H187.9V1634.4H190.3V1634.4H192.7V1634.4H195.1V1634.4H197.5V1634.4H199.9V1634.4H202.3V1634.4H204.7V1634.4H207.1V1634.4H209.5V1634.4H211.9V1632.0H214.3V1634.4H216.7V1634.4H219.1V1634.4H221.5V1634.4H223.9V1634.4H226.3V1634.4H228.7V1634.4H231.1V1634.4H233.5V1634.4H235.9V1634.4H238.3V1634.4H240.7V1634.4H243.1V1634.4H245.5V1630.8H247.9V1630.8H250.3V1629.6H252.7V1630.8H255.1V1634.4H257.5V1633.2H259.9V1634.4H262.3V1634.4H264.7V1634.4H267.1V1634.4H269.5V1634.4H271.9V1634.4H274.3V1634.4H276.7V1634.4H279.1V1634.4H281.5V1634.4H283.9V1634.4H286.3V1635.6H288.7V1635.6H291.1V1635.6H293.5V1635.6H295.9V1635.6H298.3V1635.6H300.7V1635.6H303.1V1635.6H305.5V1635.6H307.9V1635.6H310.3V1638.0H312.7V1635.6H315.1V1638.0H317.5V1635.6H319.9V1635.6H322.3V1635.6H324.7V1635.6H327.1V1635.6H329.5V1635.6H331.9V1635.6H334.3V1635.6H336.7V1635.6H339.1V1635.6H341.5V1635.6H343.9V1635.6H346.3V1635.6H348.7V1635.6H351.1V1635.6H353.5V1638.0H355.9V1635.6H358.3V1638.0H360.7V1635.6H363.1V1635.6H365.5V1635.6H367.9V1635.6H370.3V1635.6H372.7V1635.6H375.1V1635.6H377.5V1638.0H379.9V1635.6H382.3V1635.6H384.7V1635.6H387.1V1635.6H389.5V1635.6H391.9V1635.6H394.3V1635.6H396.7V1635.6H399.1V1635.6H401.5V1638.0H403.9V1635.6H406.3V1635.6H408.7V1635.6H411.1V1635.6H413.5V1635.6H415.9V1635.6H418.3V1635.6H420.7V1638.0H423.1V1635.6H425.5V1633.2H427.9V1635.6H430.3V1635.6H432.7V1633.2H435.1V1635.6H437.5V1635.6H439.9V1635.6H442.3V1635.6H444.7V1635.6H447.1V1635.6H449.5V1635.6H451.9V1635.6H454.3V1638.0H456.7V1635.6H459.1V1635.6H461.5V1638.0H463.9V1635.6H466.3V1635.6H468.7V1638.0H471.1V1635.6H473.5V1635.6H475.9V1635.6H478.3V1638.0H480.7V1635.6H483.1V1635.6H485.5V1635.6H487.9V1635.6H490.3V1638.0H492.7V1635.6H495.1V1635.6H497.5V1635.6H499.9V1638.0H502.3V1633.2H504.7V1635.6H507.1V1635.6H509.5V1635.6H511.9V1635.6H514.3V1635.6H516.7V1636.8H519.1V1636.8H521.5V1636.8H523.9V1634.4H526.3V1639.2H528.7V1636.8H531.1V1636.8H533.5V1636.8H535.9V1636.8H538.3V1636.8H540.7V1636.8H543.1V1636.8H545.5V1636.8H547.9V1636.8H550.3V1636.8H552.7V1636.8H555.1V1636.8H557.5V1636.8H559.9V1636.8H562.3V1636.8H564.7V1636.8H567.1V1636.8H569.5V1639.2H571.9V1636.8H574.3V1636.8H576.7V1636.8H579.1V1636.8H581.5V1636.8H583.9V1636.8H586.3V1636.8H588.7V1636.8H591.1V1636.8H593.5V1636.8H595.9V1636.8H598.3V1636.8H600.7V1636.8H603.1V1636.8H605.5V1639.2H607.9V1636.8H610.3V1636.8H612.7V1636.8H615.1V1636.8H617.5V1636.8H619.9V1636.8H622.3V1636.8H624.7V1636.8H627.1V1636.8H629.5V1636.8H631.9V1639.2H634.3V1636.8H636.7V1636.8H639.1V1636.8H641.5V1636.8H643.9V1636.8H646.3V1636.8H648.7V1639.2H651.1V1635.6H653.5V1634.4H655.9V1633.2H658.3V1632.0H660.7V1633.2H663.1V1634.4H665.5V1635.6H667.9V1636.8H670.3V1636.8H672.7V1636.8H675.1V1636.8H677.5V1636.8H679.9V1636.8H682.3V1634.4H684.7V1639.2H687.1V1636.8H689.5V1636.8H691.9V1636.8H694.3V1634.4H696.7V1624.8H699.1V1582.8H701.5V1495.2H703.9V1372.8H706.3V1275.6H708.7V1243.2H711.1V1256.4H713.5V1328.4H715.9V1450.8H718.3V1556.4H720.7V1610.4H723.1V1632.0H725.5V1636.8H727.9V1636.8H730.3V1636.8H732.7V1636.8H735.1V1636.8H737.5V1636.8H739.9V1639.2H742.3V1636.8H744.7V1636.8H747.1V1636.8H749.5V1636.8H751.9V1638.0H754.3V1638.0H756.7V1638.0H759.1V1638.0H761.5V1635.6H763.9V1638.0H766.3V1638.0H768.7V1638.0H771.1V1638.0H773.5V1638.0H775.9V1638.0H778.3V1638.0H780.7V1638.0H783.1V1638.0H785.5V1638.0H787.9V1638.0H790.3V1638.0H792.7V1638.0H795.1V1638.0H797.5V1638.0H799.9V1638.0H802.3V1638.0H804.7V1640.4H807.1V1638.0H809.5V1638.0H811.9V1640.4H814.3V1638.0H816.7V1638.0H819.1V1638.0H821.5V1638.0H823.9V1638.0H826.3V1638.0H828.7V1638.0H831.1V1638.0H833.5V1638.0H835.9V1638.0H838.3V1638.0H840.7V1638.0H843.1V1638.0H845.5V1638.0H847.9V1638.0H850.3V1638.0H852.7V1638.0H855.1V1638.0H857.5V1638.0H859.9V1638.0H862.3V1638.0H864.7V1638.0H867.1V1638.0H869.5V1639.2H871.9V1630.8H874.3V1606.8H876.7V1534.8H879.1V1402.8H881.5V1260.0H883.9V1171.2H886.3V1159.2H888.7V1202.4H891.1V1322.4H893.5V1471.2H895.9V1575.6H898.3V1622.4H900.7V1634.4H903.1V1638.0H905.5V1638.0H907.9V1638.0H910.3V1638.0H912.7V1638.0H915.1V1638.0H917.5V1638.0H919.9V1638.0H922.3V1638.0H924.7V1638.0H927.1V1638.0H929.5V1638.0H931.9V1638.0H934.3V1638.0H936.7V1638.0H939.1V1638.0H941.5V1638.0H943.9V1638.0H946.3V1638.0H948.7V1638.0H951.1V1638.0H953.5V1638.0H955.9V1638.0H958.3V1638.0H960.7V1638.0H963.1V1638.0H965.5V1638.0H967.9V1638.0H970.3V1638.0H972.7V1638.0H975.1V1638.0H977.5V1638.0H979.9V1638.0H982.3V1638.0H984.7V1641.6H987.1V1641.6H989.5V1639.2H991.9V1639.2H994.3V1639.2H996.7V1639.2H999.1V1639.2H1001.5V1639.2H1003.9V1641.6H1006.3V1639.2H1008.7V1639.2H1011.1V1639.2H1013.5V1639.2H1015.9V1639.2H1018.3V1639.2H1020.7V1639.2H1023.1V1639.2H1025.5V1639.2H1027.9V1639.2H1030.3V1639.2H1032.7V1639.2H1035.1V1639.2H1037.5V1639.2H1039.9V1639.2H1042.3V1639.2H1044.7V1639.2H1047.1V1639.2H1049.5V1639.2H1051.9V1639.2H1054.3V1639.2H1056.7V1639.2H1059.1V1639.2H1061.5V1639.2H1063.9V1639.2H1066.3V1639.2H1068.7V1641.6H1071.1V1639.2H1073.5V1639.2H1075.9V1636.8H1078.3V1639.2H1080.7V1639.2H1083.1V1639.2H1085.5V1639.2H1087.9V1639.2H1090.3V1639.2H1092.7V1639.2H1095.1V1639.2H1097.5V1639.2H1099.9V1639.2H1102.3V1639.2H1104.7V1639.2H1107.1V1639.2H1109.5V1639.2H1111.9V1639.2H1114.3V1639.2H1116.7V1636.8H1119.1V1639.2H1121.5V1639.2H1123.9V1639.2H1126.3V1639.2H1128.7V1639.2H1131.1V1639.2H1133.5V1639.2H1135.9V1639.2H1138.3V1639.2H1140.7V1639.2H1143.1V1639.2H1145.5V1639.2H1147.9V1639.2H1150.3V1639.2H1152.7V1639.2H1155.1V1639.2H1157.5V1636.8H1159.9V1639.2H1162.3V1639.2H1164.7V1639.2H1167.1V1639.2H1169.5V1639.2H1171.9V1639.2H1174.3V1639.2H1176.7V1639.2H1179.1V1639.2H1181.5V1639.2H1183.9V1639.2H1186.3V1639.2H1188.7V1639.2H1191.1V1639.2H1193.5V1639.2H1195.9V1639.2H1198.3V1639.2H1200.7V1639.2H1203.1V1639.2H1205.5V1639.2H1207.9V1639.2H1210.3V1639.2H1212.7V1639.2H1215.1V1639.2H1217.5V1639.2H1219.9V1640.4H1222.3V1640.4H1224.7V1640.4H1227.1V1642.8H1229.5V1640.4H1231.9V1640.4H1234.3V1640.4H1236.7V1642.8H1239.1V1640.4H1241.5V1640.4H1243.9V1640.4H1246.3V1640.4H1248.7V1640.4H1251.1V1640.4H1253.5V1640.4H1255.9V1640.4H1258.3V1640.4H1260.7V1640.4H1263.1V1640.4H1265.5V1640.4H1267.9V1640.4H1270.3V1640.4H1272.7V1640.4H1275.1V1640.4H1277.5V1640.4H1279.9V1640.4H1282.3V1640.4H1284.7V1640.4H1287.1V1640.4H1289.5V1640.4H1291.9V1640.4H1294.3V1640.4H1296.7V1640.4H1299.1V1640.4H1301.5V1642.8H1303.9V1640.4H1306.3V1640.4H1308.7V1640.4H1311.1V1642.8H1313.5V1640.4H1315.9V1640.4H1318.3V1642.8H1320.7V1638.0H1323.1V1640.4H1325.5V1640.4H1327.9V1640.4H1330.3V1640.4H1332.7V1640.4H1335.1V1640.4H1337.5V1642.8H1339.9V1640.4H1342.3V1640.4H1344.7V1640.4H1347.1V1640.4H1349.5V1640.4H1351.9V1640.4H1354.3V1640.4H1356.7V1640.4H1359.1V1640.4H1361.5V1640.4H1363.9V1642.8H1366.3V1640.4H1368.7V1640.4H1371.1V1640.4H1373.5V1642.8H1375.9V1640.4H1378.3V1640.4H1380.7V1640.4H1383.1V1640.4H1385.5V1640.4H1387.9V1640.4H1390.3V1640.4H1392.7V1640.4H1395.1V1640.4H1397.5V1640.4H1399.9V1640.4H1402.3V1640.4H1404.7V1640.4H1407.1V1640.4H1409.5V1640.4H1411.9V1640.4H1414.3V1640.4H1416.7V1640.4H1419.1V1642.8H1421.5V1640.4H1423.9V1640.4H1426.3V1640.4H1428.7V1640.4H1431.1V1640.4H1433.5V1640.4H1435.9V1640.4H1438.3V1640.4H1440.7V1640.4H1443.1V1639.2H1445.5V1639.2H1447.9V1638.0H1450.3V1636.8H1452.7V1633.2H1455.1V1628.4H1457.5V1620.0H1459.9V1612.8H1462.3V1606.8H1464.7V1609.2H1467.1V1616.4H1469.5V1624.8H1471.9V1632.0H1474.3V1635.6H1476.7V1640.4H1479.1V1639.2H1481.5V1639.2H1483.9V1640.4H1486.3V1642.8H1488.7V1640.4H1491.1V1640.4H1493.5V1640.4H1495.9V1640.4H1498.3V1640.4H1500.7V1640.4H1503.1V1640.4H1505.5V1640.4H1507.9V1644.0H1510.3V1641.6H1512.7V1641.6H1515.1V1641.6H1517.5V1641.6H1519.9V1641.6H1522.3V1641.6H1524.7V1641.6H1527.1V1641.6H1529.5V1641.6H1531.9V1641.6H1534.3V1641.6H1536.7V1644.0H1539.1V1644.0H1541.5V1641.6H1543.9V1644.0H1546.3V1641.6H1548.7V1641.6H1551.1V1641.6H1553.5V1641.6H1555.9V1641.6H1558.3V1641.6H1560.7V1641.6H1563.1V1641.6H1565.5V1641.6H1567.9V1639.2H1570.3V1644.0H1572.7V1641.6H1575.1V1641.6H1577.5V1641.6H1579.9V1641.6H1582.3V1641.6H1584.7V1641.6H1587.1V1641.6H1589.5V1641.6H1591.9V1641.6H1594.3V1641.6H1596.7V1641.6H1599.1V1641.6H1601.5V1641.6H1603.9V1641.6H1606.3V1641.6H1608.7V1641.6H1611.1V1641.6H1613.5V1641.6H1615.9V1641.6H1618.3V1641.6H1620.7V1641.6H1623.1V1639.2H1625.5V1641.6H1627.9V1639.2H1630.3V1641.6H1632.7V1641.6H1635.1V1641.6H1637.5V1641.6H1639.9V1641.6H1642.3V1641.6H1644.7V1641.6H1647.1V1641.6H1649.5V1641.6H1651.9V1641.6H1654.3V1641.6H1656.7V1641.6H1659.1V1641.6H1661.5V1641.6H1663.9V1644.0H1666.3V1641.6H1668.7V1641.6H1671.1V1641.6H1673.5V1641.6H1675.9V1641.6H1678.3V1641.6H1680.7V1641.6H1683.1V1644.0H1685.5V1641.6H1687.9V1641.6H1690.3V1641.6H1692.7V1641.6H1695.1V1641.6H1697.5V1642.8H1699.9V1642.8H1702.3V1642.8H1704.7V1642.8H1707.1V1642.8H1709.5V1642.8H1711.9V1642.8H1714.3V1642.8H1716.7V1642.8H1719.1V1642.8H1721.5V1642.8H1723.9V1642.8H1726.3V1642.8H1728.7V1642.8H1731.1V1642.8H1733.5V1642.8H1735.9V1642.8H1738.3V1642.8H1740.7V1642.8H1743.1V1642.8H1745.5V1642.8H1747.9V1642.8H1750.3V1642.8H1752.7V1642.8H1755.1V1642.8H1757.5V1642.8H1759.9V1642.8H1762.3V1642.8H1764.7V1642.8H1767.1V1642.8H1769.5V1642.8H1771.9V1642.8H1774.3V1642.8H1776.7V1642.8H1779.1V1642.8H1781.5V1642.8H1783.9V1642.8H1786.3V1641.6H1788.7V1641.6H1791.1V1641.6H1793.5V1641.6H1795.9V1641.6H1798.3V1641.6H1800.7V1641.6H1803.1V1641.6H1805.5V1644.0H1807.9V1641.6H1810.3V1640.4H1812.7V1640.4H1815.1V1639.2H1817.5V1638.0H1819.9V1635.6H1822.3V1632.0H1824.7V1623.6H1827.1V1612.8H1829.5V1599.6H1831.9V1586.4H1834.3V1582.8H1836.7V1585.2H1839.1V1597.2H1841.5V1614.0H1843.9V1622.4H1846.3V1630.8H1848.7V1635.6H1851.1V1638.0H1853.5V1639.2H1855.9V1640.4H1858.3V1641.6H1860.7V1641.6H1863.1V1641.6H1865.5V1641.6H1867.9V1641.6H1870.3V1642.8H1872.7V1642.8H1875.1V1642.8H1877.5V1642.8H1879.9V1642.8H1882.3V1642.8H1884.7V1642.8H1887.1V1640.4H1889.5V1642.8H1891.9V1642.8H1894.3V1640.4H1896.7V1642.8H1899.1V1642.8H1901.5V1645.2H1903.9V1642.8H1906.3V1642.8H1908.7V1642.8H1911.1V1642.8H1913.5V1642.8H1915.9V1642.8H1918.3V1642.8H1920.7V1642.8H1923.1V1642.8H1925.5V1642.8H1927.9V1642.8H1930.3V1642.8H1932.7V1642.8H1935.1V1645.2H1937.5V1642.8H1939.9V1642.8H1942.3V1642.8H1944.7V1642.8H1947.1V1641.6H1949.5V1640.4H1951.9V1640.4H1954.3V1639.2H1956.7V1640.4H1959.1V1640.4H1961.5V1641.6H1963.9V1642.8H1966.3V1642.8H1968.7V1645.2H1971.1V1642.8H1973.5V1644.0H1975.9V1644.0H1978.3V1644.0H1980.7V1644.0H1983.1V1644.0H1985.5V1644.0H1987.9V1644.0H1990.3V1644.0H1992.7V1644.0H1995.1V1644.0H1997.5V1644.0H1999.9V1644.0H2002.3V1644.0H2004.7V1646.4H2007.1V1644.0H2009.5V1644.0H2011.9V1644.0H2014.3V1644.0H2016.7V1641.6H2019.1V1646.4H2021.5V1644.0H2023.9V1644.0H2026.3V1644.0H2028.7V1646.4H2031.1V1641.6H2033.5V1644.0H2035.9V1644.0H2038.3V1644.0H2040.7V1644.0H2043.1V1644.0H2045.5V1644.0H2047.9V1644.0H2050.3V1644.0H2052.7V1644.0H2055.1V1644.0H2057.5V1644.0H2059.9V1644.0H2062.3V1644.0H2064.7V1644.0H2067.1V1644.0H2069.5V1644.0H2071.9V1644.0H2074.3V1644.0H2076.7V1644.0H2079.1V1644.0H2081.5V1644.0H2083.9V1644.0H2086.3V1644.0H2088.7V1644.0H2091.1V1644.0H2093.5V1646.4H2095.9V1644.0H2098.3V1644.0H2100.7V1644.0H2103.1V1644.0H2105.5V1644.0H2107.9V1644.0H2110.3V1644.0H2112.7V1644.0H2115.1V1644.0H2117.5V1646.4H2119.9V1644.0H2122.3V1644.0H2124.7V1644.0H2127.1V1644.0H2129.5V1644.0H2131.9V1644.0H2134.3V1644.0H2136.7V1644.0H2139.1V1644.0H2141.5V1644.0H2143.9V1644.0H2146.3V1644.0H2148.7V1644.0H2151.1V1645.2H2153.5V1645.2H2155.9V1645.2H2158.3V1645.2H2160.7V1647.6H2163.1V1645.2H2165.5V1645.2H2167.9"/>
</g>
<path fill="#aaa" d="M709.5 394.0H713.3V481.0H709.5ZM711.0 977.0H716.0V1095.0H711.0ZM885.8 710.0H888.0V738.0H885.8ZM885.5 828.0H889.2V953.7H885.5ZM885.2 1200.0H889.7V1275.0H885.2Z"/>
<path fill="#111" d="M707.0 54.0H713.3V273.0H707.0ZM707.0 273.0H717.2V291.0H707.0ZM703.0 291.0H717.2V394.0H703.0ZM703.0 394.0H709.5V481.0H703.0ZM713.3 394.0H717.2V481.0H713.3ZM702.6 481.0H706.4V929.0H702.6ZM713.6 481.0H717.4V929.0H713.6ZM702.6 929.0H706.4V939.0H702.6ZM713.6 929.0H720.7V939.0H713.6ZM698.6 939.0H706.0V946.5H698.6ZM713.0 939.0H720.7V946.5H713.0ZM698.6 946.5H720.7V977.0H698.6ZM698.6 977.0H711.0V1095.0H698.6ZM716.0 977.0H720.7V1095.0H716.0ZM699.2 1095.0H705.4V1203.0H699.2ZM712.2 1095.0H719.0V1203.0H712.2ZM699.2 1203.0H708.8V1218.0H699.2ZM713.3 1203.0H719.0V1218.0H713.3ZM699.2 1218.0H719.0V1237.0H699.2ZM695.2 1237.0H719.0V1258.0H695.2ZM695.2 1258.0H705.4V1299.0H695.2ZM711.0 1258.0H724.7V1299.0H711.0ZM695.4 1299.0H705.4V1359.0H695.4ZM710.0 1299.0H719.0V1321.0H710.0ZM719.0 1299.0H723.5V1303.0H719.0ZM710.0 1321.0H715.4V1366.0H710.0ZM721.5 1321.0H723.8V1366.0H721.5ZM695.4 1359.0H698.2V1384.0H695.4ZM702.8 1359.0H705.4V1384.0H702.8ZM696.3 1384.0H705.4V1408.0H696.3ZM710.0 1366.0H712.6V1397.0H710.0ZM718.0 1366.0H723.5V1397.0H718.0ZM698.0 1408.0H706.3V1450.0H698.0ZM719.0 1397.0H722.0V1421.0H719.0ZM710.8 1421.0H720.0V1450.0H710.8ZM885.0 648.0H889.5V699.0H885.0ZM885.0 699.0H892.7V710.0H885.0ZM881.8 710.0H885.8V738.0H881.8ZM888.0 710.0H892.7V738.0H888.0ZM881.8 738.0H892.7V828.0H881.8ZM881.8 828.0H885.5V953.7H881.8ZM889.2 828.0H893.3V1005.0H889.2ZM878.6 953.7H884.5V1046.0H878.6ZM890.0 1005.0H896.3V1085.0H890.0ZM878.6 1046.0H883.0V1169.0H878.6ZM890.5 1085.0H896.3V1200.0H890.5ZM885.2 1152.0H890.1V1200.0H885.2ZM874.9 1169.0H886.7V1200.0H874.9ZM874.9 1200.0H885.2V1275.0H874.9ZM889.7 1200.0H896.3V1248.0H889.7ZM892.5 1248.0H899.0V1275.0H892.5ZM875.4 1275.0H883.6V1290.0H875.4ZM889.7 1275.0H900.0V1290.0H889.7ZM873.4 1290.0H885.6V1314.0H873.4ZM871.3 1290.0H875.4V1314.0H871.3ZM889.7 1290.0H891.7V1355.0H889.7ZM896.8 1290.0H900.0V1355.0H896.8ZM875.4 1314.0H881.5V1355.0H875.4ZM897.9 1310.0H903.0V1325.0H897.9ZM875.4 1355.0H890.7V1393.0H875.4ZM893.8 1355.0H898.9V1393.0H893.8ZM879.5 1393.0H886.6V1435.0H879.5ZM894.8 1393.0H898.9V1435.0H894.8ZM871.3 1393.0H875.4V1415.0H871.3ZM898.9 1393.0H903.0V1415.0H898.9Z"/>
<g fill="none" stroke="#111" stroke-width="3.9">
<line x1="609.6" y1="49.8" x2="824" y2="49.8" stroke-dasharray="6.5 16.56"/>
<line x1="611.7" y1="46.9" x2="611.7" y2="1656" stroke-dasharray="7 16.1"/>
<line x1="821.6" y1="45.5" x2="821.6" y2="1656" stroke-dasharray="7 16.1"/>
<line x1="610.3" y1="1653" x2="826" y2="1653" stroke-dasharray="8.5 14.48"/>
</g>
<rect x="185.5" y="54.8" width="1983.0" height="1610.7" fill="none" stroke="#000" stroke-width="5.6"/>
<path d="M185.5 1665.5V1695.5M326.7 1665.5V1681.5M468.4 1665.5V1695.5M613.2 1665.5V1681.5M754.4 1665.5V1695.5M896.0 1665.5V1681.5M1037.2 1665.5V1695.5M1178.5 1665.5V1681.5M1320.2 1665.5V1695.5M1461.5 1665.5V1681.5M1603.0 1665.5V1695.5M1744.2 1665.5V1681.5M1885.8 1665.5V1695.5M2027.5 1665.5V1681.5M2168.5 1665.5V1695.5" stroke="#000" stroke-width="5.4" fill="none"/>
<text x="142.39" y="1783.40" font-size="84.00">20</text>
<text x="426.02" y="1783.40" font-size="84.00">30</text>
<text x="709.10" y="1783.40" font-size="84.00">40</text>
<text x="991.60" y="1783.40" font-size="84.00">50</text>
<text x="1275.13" y="1783.40" font-size="84.00">60</text>
<text x="1558.37" y="1783.40" font-size="84.00">70</text>
<text x="1842.54" y="1783.40" font-size="84.00">80</text>
<text x="2126.29" y="1783.40" font-size="84.00">90</text>
<text x="966.05" y="1876.70" font-size="84.00" textLength="87.91" lengthAdjust="spacingAndGlyphs" xml:space="preserve">2θ</text>
<text x="1095.77" y="1876.70" font-size="84.00" textLength="291.13" lengthAdjust="spacingAndGlyphs" xml:space="preserve">angle (°)</text>
<text transform="translate(109.80 1141.82) rotate(-90)" font-size="84.00" textLength="662.62" lengthAdjust="spacingAndGlyphs" xml:space="preserve">Intensity (arb.units)</text>
<text transform="translate(674.20 275.88) rotate(-90)" font-size="83.00" textLength="179.84" lengthAdjust="spacingAndGlyphs" xml:space="preserve">(111)</text>
<text transform="translate(909.00 624.69) rotate(-90)" font-size="84.00" textLength="181.67" lengthAdjust="spacingAndGlyphs" xml:space="preserve">(200)</text>
<text transform="translate(1481.60 1252.96) rotate(-90)" font-size="84.00" textLength="185.32" lengthAdjust="spacingAndGlyphs" xml:space="preserve">(220)</text>
<text transform="translate(1857.30 1196.11) rotate(-90)" font-size="84.00" textLength="184.51" lengthAdjust="spacingAndGlyphs" xml:space="preserve">(311)</text>
<text transform="translate(1978.10 1248.27) rotate(-90)" font-size="84.00" textLength="180.52" lengthAdjust="spacingAndGlyphs" xml:space="preserve">(222)</text>
<text x="194.72" y="1307.90" font-size="69.00" textLength="422.69" lengthAdjust="spacingAndGlyphs" xml:space="preserve">2500 pulses/cm</text>
<text x="615.98" y="1279.40" font-size="46.00" textLength="27.50" lengthAdjust="spacingAndGlyphs" xml:space="preserve">2</text>
<text x="192.93" y="1407.60" font-size="69.00" textLength="416.77" lengthAdjust="spacingAndGlyphs" xml:space="preserve">1600 pulses/cm</text>
<text x="612.91" y="1379.20" font-size="46.00" textLength="26.00" lengthAdjust="spacingAndGlyphs" xml:space="preserve">2</text>
<text x="195.55" y="1512.30" font-size="69.00" textLength="386.76" lengthAdjust="spacingAndGlyphs" xml:space="preserve">900 pulses/cm</text>
<text x="583.43" y="1483.80" font-size="46.00" textLength="24.62" lengthAdjust="spacingAndGlyphs" xml:space="preserve">2</text>
<text x="252.06" y="1624.10" font-size="70.00" textLength="168.43" lengthAdjust="spacingAndGlyphs" xml:space="preserve">Initial</text>
<rect x="1156.5" y="83.5" width="806.5" height="705.3" fill="#fff" stroke="none"/>
<g clip-path="url(#ci)" fill="none" stroke-width="3.0">
<path d="M1156.5 775.2L1158.9 775.2L1158.9 775.2L1161.3 775.2L1161.3 775.2L1163.7 775.2L1163.7 775.2L1166.1 775.2L1166.1 775.2L1168.5 775.2L1168.5 775.2L1170.9 775.2L1170.9 775.2L1173.3 775.2L1173.3 775.2L1175.7 775.2L1175.7 775.2L1178.1 775.2L1178.1 775.2L1180.5 775.2L1180.5 775.2L1182.9 775.2L1182.9 775.2L1185.3 775.2L1185.3 775.2L1187.7 775.2L1187.7 775.2L1190.1 775.2L1190.1 775.2L1192.5 775.2L1192.5 775.2L1194.9 775.2L1194.9 775.2L1197.3 775.2L1197.3 775.2L1199.7 775.2L1199.7 775.2L1202.1 775.2L1202.1 775.2L1204.5 775.2L1204.5 775.2L1206.9 775.2L1206.9 775.2L1209.3 775.2L1209.3 775.2L1211.7 775.2L1211.7 775.2L1214.1 775.2L1214.1 775.2L1216.5 775.2L1216.5 775.2L1218.9 775.2L1218.9 775.2L1221.3 775.2L1221.3 775.2L1223.7 775.2L1223.7 775.2L1226.1 775.2L1226.1 775.2L1228.5 775.2L1228.5 775.2L1230.9 775.2L1230.9 775.2L1233.3 775.2L1233.3 775.2L1235.7 775.2L1235.7 775.2L1238.1 775.2L1238.1 775.2L1240.5 775.2L1240.5 775.2L1242.9 775.2L1242.9 775.2L1245.3 775.2L1245.3 775.2L1247.7 775.2L1247.7 775.2L1250.1 775.2L1250.1 775.2L1252.5 775.2L1252.5 775.2L1254.9 775.2L1254.9 775.2L1257.3 775.2L1257.3 775.2L1259.7 775.2L1259.7 775.2L1262.1 775.2L1262.1 775.2L1264.5 775.2L1264.5 775.2L1266.9 775.2L1266.9 775.2L1269.3 775.2L1269.3 775.2L1271.7 775.2L1271.7 775.2L1274.1 775.2L1274.1 775.2L1276.5 775.2L1276.5 775.2L1278.9 775.2L1278.9 775.2L1281.3 775.2L1281.3 775.2L1283.7 775.2L1283.7 775.2L1286.1 775.2L1286.1 775.2L1288.5 775.2L1288.5 775.2L1290.9 775.2L1290.9 775.2L1293.3 775.2L1293.3 775.2L1295.7 775.2L1295.7 775.2L1298.1 775.2L1298.1 775.2L1300.5 775.2L1300.5 775.2L1302.9 775.2L1302.9 775.2L1305.3 775.2L1305.3 775.2L1307.7 775.2L1307.7 775.2L1310.1 775.2L1310.1 775.2L1312.5 775.2L1312.5 775.2L1314.9 775.2L1314.9 775.2L1317.3 775.2L1317.3 775.2L1319.7 775.2L1319.7 775.2L1322.1 775.2L1322.1 775.2L1324.5 775.2L1324.5 775.2L1326.9 775.2L1326.9 775.2L1329.3 775.2L1329.3 775.2L1331.7 775.2L1331.7 775.2L1334.1 775.2L1334.1 775.2L1336.5 775.2L1336.5 775.2L1338.9 775.2L1338.9 775.2L1341.3 775.2L1341.3 775.2L1343.7 775.2L1343.7 775.2L1346.1 775.2L1346.1 775.2L1348.5 775.2L1348.5 772.8L1350.9 772.8L1350.9 772.8L1353.3 772.8L1353.3 772.8L1355.7 772.8L1355.7 772.8L1358.1 772.8L1358.1 772.8L1360.5 772.8L1360.5 772.8L1362.9 772.8L1362.9 772.8L1365.3 772.8L1365.3 772.8L1367.7 772.8L1367.7 772.8L1370.1 772.8L1370.1 772.8L1372.5 772.8L1372.5 770.4L1374.9 770.4L1374.9 770.4L1377.3 770.4L1377.3 770.4L1379.7 770.4L1379.7 770.4L1382.1 770.4L1382.1 770.4L1384.5 770.4L1384.5 768.0L1386.9 768.0L1386.9 768.0L1389.3 768.0L1389.3 768.0L1391.7 768.0L1391.7 765.6L1394.1 765.6L1394.1 765.6L1396.5 765.6L1396.5 765.6L1398.9 765.6L1398.9 763.2L1401.3 763.2L1401.3 763.2L1403.7 763.2L1403.7 760.8L1406.1 760.8L1406.1 758.4L1408.5 758.4L1408.5 758.4L1410.9 758.4L1410.9 756.0L1413.3 756.0L1413.3 753.6L1415.7 753.6L1415.7 753.6L1418.1 753.6L1418.1 751.2L1420.5 751.2L1420.5 748.8L1422.9 748.8L1422.9 746.4L1425.3 746.4L1425.3 744.0L1427.7 744.0L1427.7 741.6L1430.1 741.6L1430.1 739.2L1432.5 739.2L1432.5 734.4L1434.9 734.4L1434.9 732.0L1437.3 732.0L1437.3 729.6L1439.7 729.6L1439.7 724.8L1442.1 724.8L1442.1 722.4L1444.5 722.4L1444.5 717.6L1446.9 717.6L1446.9 715.2L1449.3 715.2L1449.3 710.4L1451.7 710.4L1451.7 705.6L1454.1 705.6L1454.1 700.8L1456.5 700.8L1456.5 698.4L1458.9 698.4L1458.9 693.6L1461.3 693.6L1461.3 688.8L1463.7 688.8L1463.7 684.0L1466.1 684.0L1466.1 679.2L1468.5 679.2L1468.5 674.4L1470.9 674.4L1470.9 669.6L1473.3 669.6L1473.3 664.8L1475.7 664.8L1475.7 657.6L1478.1 657.6L1478.1 652.8L1480.5 652.8L1480.5 648.0L1482.9 648.0L1482.9 643.2L1485.3 643.2L1485.3 638.4L1487.7 638.4L1487.7 633.6L1490.1 633.6L1490.1 628.8L1492.5 628.8L1492.5 624.0L1494.9 624.0L1494.9 621.6L1497.3 621.6L1497.3 616.8L1499.7 616.8L1499.7 612.0L1502.1 612.0L1502.1 609.6L1504.5 609.6L1504.5 604.8L1506.9 604.8L1506.9 602.4L1509.3 602.4L1509.3 600.0L1511.7 600.0L1511.7 597.6L1514.1 597.6L1514.1 595.2L1516.5 595.2L1516.5 592.8L1518.9 592.8L1518.9 590.4L1521.3 590.4L1521.3 590.4L1523.7 590.4L1523.7 588.0L1526.1 588.0L1526.1 588.0L1528.5 588.0L1528.5 588.0L1530.9 588.0L1530.9 588.0L1533.3 588.0L1533.3 588.0L1535.7 588.0L1535.7 588.0L1538.1 588.0L1538.1 590.4L1540.5 590.4L1540.5 590.4L1542.9 590.4L1542.9 592.8L1545.3 592.8L1545.3 595.2L1547.7 595.2L1547.7 597.6L1550.1 597.6L1550.1 600.0L1552.5 600.0L1552.5 604.8L1554.9 604.8L1554.9 607.2L1557.3 607.2L1557.3 612.0L1559.7 612.0L1559.7 614.4L1562.1 614.4L1562.1 619.2L1564.5 619.2L1564.5 624.0L1566.9 624.0L1566.9 628.8L1569.3 628.8L1569.3 633.6L1571.7 633.6L1571.7 638.4L1574.1 638.4L1574.1 643.2L1576.5 643.2L1576.5 648.0L1578.9 648.0L1578.9 652.8L1581.3 652.8L1581.3 657.6L1583.7 657.6L1583.7 662.4L1586.1 662.4L1586.1 667.2L1588.5 667.2L1588.5 672.0L1590.9 672.0L1590.9 676.8L1593.3 676.8L1593.3 681.6L1595.7 681.6L1595.7 686.4L1598.1 686.4L1598.1 691.2L1600.5 691.2L1600.5 696.0L1602.9 696.0L1602.9 700.8L1605.3 700.8L1605.3 705.6L1607.7 705.6L1607.7 710.4L1610.1 710.4L1610.1 715.2L1612.5 715.2L1612.5 717.6L1614.9 717.6L1614.9 722.4L1617.3 722.4L1617.3 724.8L1619.7 724.8L1619.7 729.6L1622.1 729.6L1622.1 732.0L1624.5 732.0L1624.5 736.8L1626.9 736.8L1626.9 739.2L1629.3 739.2L1629.3 741.6L1631.7 741.6L1631.7 744.0L1634.1 744.0L1634.1 746.4L1636.5 746.4L1636.5 748.8L1638.9 748.8L1638.9 751.2L1641.3 751.2L1641.3 753.6L1643.7 753.6L1643.7 756.0L1646.1 756.0L1646.1 756.0L1648.5 756.0L1648.5 758.4L1650.9 758.4L1650.9 760.8L1653.3 760.8L1653.3 760.8L1655.7 760.8L1655.7 763.2L1658.1 763.2L1658.1 763.2L1660.5 763.2L1660.5 765.6L1662.9 765.6L1662.9 765.6L1665.3 765.6L1665.3 768.0L1667.7 768.0L1667.7 768.0L1670.1 768.0L1670.1 768.0L1672.5 768.0L1672.5 768.0L1674.9 768.0L1674.9 770.4L1677.3 770.4L1677.3 770.4L1679.7 770.4L1679.7 770.4L1682.1 770.4L1682.1 770.4L1684.5 770.4L1684.5 772.8L1686.9 772.8L1686.9 772.8L1689.3 772.8L1689.3 772.8L1691.7 772.8L1691.7 772.8L1694.1 772.8L1694.1 772.8L1696.5 772.8L1696.5 772.8L1698.9 772.8L1698.9 772.8L1701.3 772.8L1701.3 772.8L1703.7 772.8L1703.7 772.8L1706.1 772.8L1706.1 775.2L1708.5 775.2L1708.5 775.2L1710.9 775.2L1710.9 775.2L1713.3 775.2L1713.3 775.2L1715.7 775.2L1715.7 775.2L1718.1 775.2L1718.1 775.2L1720.5 775.2L1720.5 775.2L1722.9 775.2L1722.9 775.2L1725.3 775.2L1725.3 775.2L1727.7 775.2L1727.7 775.2L1730.1 775.2L1730.1 775.2L1732.5 775.2L1732.5 775.2L1734.9 775.2L1734.9 775.2L1737.3 775.2L1737.3 775.2L1739.7 775.2L1739.7 775.2L1742.1 775.2L1742.1 775.2L1744.5 775.2L1744.5 775.2L1746.9 775.2L1746.9 775.2L1749.3 775.2L1749.3 775.2L1751.7 775.2L1751.7 775.2L1754.1 775.2L1754.1 775.2L1756.5 775.2L1756.5 775.2L1758.9 775.2L1758.9 775.2L1761.3 775.2L1761.3 775.2L1763.7 775.2L1763.7 775.2L1766.1 775.2L1766.1 775.2L1768.5 775.2L1768.5 775.2L1770.9 775.2L1770.9 775.2L1773.3 775.2L1773.3 775.2L1775.7 775.2L1775.7 775.2L1778.1 775.2L1778.1 775.2L1780.5 775.2L1780.5 775.2L1782.9 775.2L1782.9 775.2L1785.3 775.2L1785.3 775.2L1787.7 775.2L1787.7 775.2L1790.1 775.2L1790.1 775.2L1792.5 775.2L1792.5 775.2L1794.9 775.2L1794.9 775.2L1797.3 775.2L1797.3 775.2L1799.7 775.2L1799.7 775.2L1802.1 775.2L1802.1 775.2L1804.5 775.2L1804.5 775.2L1806.9 775.2L1806.9 775.2L1809.3 775.2L1809.3 775.2L1811.7 775.2L1811.7 775.2L1814.1 775.2L1814.1 775.2L1816.5 775.2L1816.5 775.2L1818.9 775.2L1818.9 775.2L1821.3 775.2L1821.3 775.2L1823.7 775.2L1823.7 775.2L1826.1 775.2L1826.1 775.2L1828.5 775.2L1828.5 775.2L1830.9 775.2L1830.9 775.2L1833.3 775.2L1833.3 775.2L1835.7 775.2L1835.7 775.2L1838.1 775.2L1838.1 775.2L1840.5 775.2L1840.5 775.2L1842.9 775.2L1842.9 775.2L1845.3 775.2L1845.3 775.2L1847.7 775.2L1847.7 775.2L1850.1 775.2L1850.1 775.2L1852.5 775.2L1852.5 775.2L1854.9 775.2L1854.9 775.2L1857.3 775.2L1857.3 775.2L1859.7 775.2L1859.7 777.6L1862.1 777.6L1862.1 777.6L1864.5 777.6L1864.5 777.6L1866.9 777.6L1866.9 777.6L1869.3 777.6L1869.3 777.6L1871.7 777.6L1871.7 777.6L1874.1 777.6L1874.1 777.6L1876.5 777.6L1876.5 777.6L1878.9 777.6L1878.9 777.6L1881.3 777.6L1881.3 777.6L1883.7 777.6L1883.7 777.6L1886.1 777.6L1886.1 777.6L1888.5 777.6L1888.5 777.6L1890.9 777.6L1890.9 777.6L1893.3 777.6L1893.3 777.6L1895.7 777.6L1895.7 777.6L1898.1 777.6L1898.1 777.6L1900.5 777.6L1900.5 777.6L1902.9 777.6L1902.9 777.6L1905.3 777.6L1905.3 777.6L1907.7 777.6L1907.7 777.6L1910.1 777.6L1910.1 777.6L1912.5 777.6L1912.5 777.6L1914.9 777.6L1914.9 777.6L1917.3 777.6L1917.3 777.6L1919.7 777.6L1919.7 777.6L1922.1 777.6L1922.1 777.6L1924.5 777.6L1924.5 777.6L1926.9 777.6L1926.9 777.6L1929.3 777.6L1929.3 777.6L1931.7 777.6L1931.7 777.6L1934.1 777.6L1934.1 777.6L1936.5 777.6L1936.5 777.6L1938.9 777.6L1938.9 777.6L1941.3 777.6L1941.3 777.6L1943.7 777.6L1943.7 777.6L1946.1 777.6L1946.1 777.6L1948.5 777.6L1948.5 777.6L1950.9 777.6L1950.9 777.6L1953.3 777.6L1953.3 777.6L1955.7 777.6L1955.7 777.6L1958.1 777.6L1958.1 777.6L1960.5 777.6L1960.5 777.6L1962.9 777.6L1962.9 777.6" stroke="#5a5a5a"/>
<path d="M1156.5 775.2L1158.9 775.2L1158.9 775.2L1161.3 775.2L1161.3 775.2L1163.7 775.2L1163.7 775.2L1166.1 775.2L1166.1 775.2L1168.5 775.2L1168.5 775.2L1170.9 775.2L1170.9 775.2L1173.3 775.2L1173.3 775.2L1175.7 775.2L1175.7 775.2L1178.1 775.2L1178.1 775.2L1180.5 775.2L1180.5 775.2L1182.9 775.2L1182.9 775.2L1185.3 775.2L1185.3 775.2L1187.7 775.2L1187.7 775.2L1190.1 775.2L1190.1 775.2L1192.5 775.2L1192.5 775.2L1194.9 775.2L1194.9 775.2L1197.3 775.2L1197.3 775.2L1199.7 775.2L1199.7 775.2L1202.1 775.2L1202.1 775.2L1204.5 775.2L1204.5 775.2L1206.9 775.2L1206.9 775.2L1209.3 775.2L1209.3 775.2L1211.7 775.2L1211.7 775.2L1214.1 775.2L1214.1 775.2L1216.5 775.2L1216.5 775.2L1218.9 775.2L1218.9 775.2L1221.3 775.2L1221.3 775.2L1223.7 775.2L1223.7 775.2L1226.1 775.2L1226.1 775.2L1228.5 775.2L1228.5 775.2L1230.9 775.2L1230.9 775.2L1233.3 775.2L1233.3 775.2L1235.7 775.2L1235.7 775.2L1238.1 775.2L1238.1 775.2L1240.5 775.2L1240.5 775.2L1242.9 775.2L1242.9 775.2L1245.3 775.2L1245.3 775.2L1247.7 775.2L1247.7 775.2L1250.1 775.2L1250.1 775.2L1252.5 775.2L1252.5 775.2L1254.9 775.2L1254.9 775.2L1257.3 775.2L1257.3 775.2L1259.7 775.2L1259.7 775.2L1262.1 775.2L1262.1 775.2L1264.5 775.2L1264.5 775.2L1266.9 775.2L1266.9 772.8L1269.3 772.8L1269.3 772.8L1271.7 772.8L1271.7 772.8L1274.1 772.8L1274.1 772.8L1276.5 772.8L1276.5 772.8L1278.9 772.8L1278.9 772.8L1281.3 772.8L1281.3 772.8L1283.7 772.8L1283.7 772.8L1286.1 772.8L1286.1 772.8L1288.5 772.8L1288.5 772.8L1290.9 772.8L1290.9 772.8L1293.3 772.8L1293.3 772.8L1295.7 772.8L1295.7 772.8L1298.1 772.8L1298.1 772.8L1300.5 772.8L1300.5 772.8L1302.9 772.8L1302.9 772.8L1305.3 772.8L1305.3 772.8L1307.7 772.8L1307.7 772.8L1310.1 772.8L1310.1 772.8L1312.5 772.8L1312.5 772.8L1314.9 772.8L1314.9 772.8L1317.3 772.8L1317.3 772.8L1319.7 772.8L1319.7 772.8L1322.1 772.8L1322.1 772.8L1324.5 772.8L1324.5 772.8L1326.9 772.8L1326.9 772.8L1329.3 772.8L1329.3 772.8L1331.7 772.8L1331.7 772.8L1334.1 772.8L1334.1 772.8L1336.5 772.8L1336.5 772.8L1338.9 772.8L1338.9 772.8L1341.3 772.8L1341.3 772.8L1343.7 772.8L1343.7 772.8L1346.1 772.8L1346.1 772.8L1348.5 772.8L1348.5 772.8L1350.9 772.8L1350.9 772.8L1353.3 772.8L1353.3 772.8L1355.7 772.8L1355.7 772.8L1358.1 772.8L1358.1 772.8L1360.5 772.8L1360.5 772.8L1362.9 772.8L1362.9 772.8L1365.3 772.8L1365.3 772.8L1367.7 772.8L1367.7 772.8L1370.1 772.8L1370.1 772.8L1372.5 772.8L1372.5 770.4L1374.9 770.4L1374.9 770.4L1377.3 770.4L1377.3 770.4L1379.7 770.4L1379.7 770.4L1382.1 770.4L1382.1 770.4L1384.5 770.4L1384.5 770.4L1386.9 770.4L1386.9 770.4L1389.3 770.4L1389.3 770.4L1391.7 770.4L1391.7 768.0L1394.1 768.0L1394.1 768.0L1396.5 768.0L1396.5 768.0L1398.9 768.0L1398.9 765.6L1401.3 765.6L1401.3 765.6L1403.7 765.6L1403.7 765.6L1406.1 765.6L1406.1 763.2L1408.5 763.2L1408.5 763.2L1410.9 763.2L1410.9 760.8L1413.3 760.8L1413.3 758.4L1415.7 758.4L1415.7 758.4L1418.1 758.4L1418.1 756.0L1420.5 756.0L1420.5 753.6L1422.9 753.6L1422.9 751.2L1425.3 751.2L1425.3 748.8L1427.7 748.8L1427.7 746.4L1430.1 746.4L1430.1 741.6L1432.5 741.6L1432.5 739.2L1434.9 739.2L1434.9 734.4L1437.3 734.4L1437.3 732.0L1439.7 732.0L1439.7 727.2L1442.1 727.2L1442.1 722.4L1444.5 722.4L1444.5 717.6L1446.9 717.6L1446.9 712.8L1449.3 712.8L1449.3 708.0L1451.7 708.0L1451.7 700.8L1454.1 700.8L1454.1 696.0L1456.5 696.0L1456.5 688.8L1458.9 688.8L1458.9 684.0L1461.3 684.0L1461.3 676.8L1463.7 676.8L1463.7 669.6L1466.1 669.6L1466.1 662.4L1468.5 662.4L1468.5 655.2L1470.9 655.2L1470.9 648.0L1473.3 648.0L1473.3 640.8L1475.7 640.8L1475.7 633.6L1478.1 633.6L1478.1 626.4L1480.5 626.4L1480.5 619.2L1482.9 619.2L1482.9 612.0L1485.3 612.0L1485.3 604.8L1487.7 604.8L1487.7 597.6L1490.1 597.6L1490.1 590.4L1492.5 590.4L1492.5 583.2L1494.9 583.2L1494.9 578.4L1497.3 578.4L1497.3 571.2L1499.7 571.2L1499.7 566.4L1502.1 566.4L1502.1 559.2L1504.5 559.2L1504.5 554.4L1506.9 554.4L1506.9 549.6L1509.3 549.6L1509.3 544.8L1511.7 544.8L1511.7 540.0L1514.1 540.0L1514.1 535.2L1516.5 535.2L1516.5 532.8L1518.9 532.8L1518.9 530.4L1521.3 530.4L1521.3 528.0L1523.7 528.0L1523.7 525.6L1526.1 525.6L1526.1 523.2L1528.5 523.2L1528.5 520.8L1530.9 520.8L1530.9 520.8L1533.3 520.8L1533.3 518.4L1535.7 518.4L1535.7 518.4L1538.1 518.4L1538.1 518.4L1540.5 518.4L1540.5 518.4L1542.9 518.4L1542.9 518.4L1545.3 518.4L1545.3 518.4L1547.7 518.4L1547.7 518.4L1550.1 518.4L1550.1 518.4L1552.5 518.4L1552.5 520.8L1554.9 520.8L1554.9 520.8L1557.3 520.8L1557.3 523.2L1559.7 523.2L1559.7 525.6L1562.1 525.6L1562.1 528.0L1564.5 528.0L1564.5 530.4L1566.9 530.4L1566.9 532.8L1569.3 532.8L1569.3 537.6L1571.7 537.6L1571.7 542.4L1574.1 542.4L1574.1 544.8L1576.5 544.8L1576.5 549.6L1578.9 549.6L1578.9 556.8L1581.3 556.8L1581.3 561.6L1583.7 561.6L1583.7 566.4L1586.1 566.4L1586.1 573.6L1588.5 573.6L1588.5 580.8L1590.9 580.8L1590.9 588.0L1593.3 588.0L1593.3 592.8L1595.7 592.8L1595.7 600.0L1598.1 600.0L1598.1 609.6L1600.5 609.6L1600.5 616.8L1602.9 616.8L1602.9 624.0L1605.3 624.0L1605.3 631.2L1607.7 631.2L1607.7 638.4L1610.1 638.4L1610.1 645.6L1612.5 645.6L1612.5 652.8L1614.9 652.8L1614.9 660.0L1617.3 660.0L1617.3 667.2L1619.7 667.2L1619.7 674.4L1622.1 674.4L1622.1 681.6L1624.5 681.6L1624.5 688.8L1626.9 688.8L1626.9 693.6L1629.3 693.6L1629.3 700.8L1631.7 700.8L1631.7 705.6L1634.1 705.6L1634.1 710.4L1636.5 710.4L1636.5 717.6L1638.9 717.6L1638.9 722.4L1641.3 722.4L1641.3 727.2L1643.7 727.2L1643.7 729.6L1646.1 729.6L1646.1 734.4L1648.5 734.4L1648.5 739.2L1650.9 739.2L1650.9 741.6L1653.3 741.6L1653.3 744.0L1655.7 744.0L1655.7 748.8L1658.1 748.8L1658.1 751.2L1660.5 751.2L1660.5 753.6L1662.9 753.6L1662.9 756.0L1665.3 756.0L1665.3 758.4L1667.7 758.4L1667.7 758.4L1670.1 758.4L1670.1 760.8L1672.5 760.8L1672.5 763.2L1674.9 763.2L1674.9 763.2L1677.3 763.2L1677.3 765.6L1679.7 765.6L1679.7 765.6L1682.1 765.6L1682.1 765.6L1684.5 765.6L1684.5 768.0L1686.9 768.0L1686.9 768.0L1689.3 768.0L1689.3 768.0L1691.7 768.0L1691.7 770.4L1694.1 770.4L1694.1 770.4L1696.5 770.4L1696.5 770.4L1698.9 770.4L1698.9 770.4L1701.3 770.4L1701.3 770.4L1703.7 770.4L1703.7 770.4L1706.1 770.4L1706.1 770.4L1708.5 770.4L1708.5 770.4L1710.9 770.4L1710.9 772.8L1713.3 772.8L1713.3 772.8L1715.7 772.8L1715.7 772.8L1718.1 772.8L1718.1 772.8L1720.5 772.8L1720.5 772.8L1722.9 772.8L1722.9 772.8L1725.3 772.8L1725.3 772.8L1727.7 772.8L1727.7 772.8L1730.1 772.8L1730.1 772.8L1732.5 772.8L1732.5 772.8L1734.9 772.8L1734.9 772.8L1737.3 772.8L1737.3 772.8L1739.7 772.8L1739.7 772.8L1742.1 772.8L1742.1 772.8L1744.5 772.8L1744.5 772.8L1746.9 772.8L1746.9 772.8L1749.3 772.8L1749.3 772.8L1751.7 772.8L1751.7 772.8L1754.1 772.8L1754.1 772.8L1756.5 772.8L1756.5 772.8L1758.9 772.8L1758.9 772.8L1761.3 772.8L1761.3 772.8L1763.7 772.8L1763.7 772.8L1766.1 772.8L1766.1 772.8L1768.5 772.8L1768.5 772.8L1770.9 772.8L1770.9 772.8L1773.3 772.8L1773.3 772.8L1775.7 772.8L1775.7 772.8L1778.1 772.8L1778.1 772.8L1780.5 772.8L1780.5 772.8L1782.9 772.8L1782.9 772.8L1785.3 772.8L1785.3 772.8L1787.7 772.8L1787.7 772.8L1790.1 772.8L1790.1 772.8L1792.5 772.8L1792.5 772.8L1794.9 772.8L1794.9 772.8L1797.3 772.8L1797.3 772.8L1799.7 772.8L1799.7 772.8L1802.1 772.8L1802.1 772.8L1804.5 772.8L1804.5 772.8L1806.9 772.8L1806.9 772.8L1809.3 772.8L1809.3 772.8L1811.7 772.8L1811.7 772.8L1814.1 772.8L1814.1 772.8L1816.5 772.8L1816.5 772.8L1818.9 772.8L1818.9 772.8L1821.3 772.8L1821.3 772.8L1823.7 772.8L1823.7 772.8L1826.1 772.8L1826.1 772.8L1828.5 772.8L1828.5 772.8L1830.9 772.8L1830.9 772.8L1833.3 772.8L1833.3 772.8L1835.7 772.8L1835.7 775.2L1838.1 775.2L1838.1 775.2L1840.5 775.2L1840.5 775.2L1842.9 775.2L1842.9 775.2L1845.3 775.2L1845.3 775.2L1847.7 775.2L1847.7 775.2L1850.1 775.2L1850.1 775.2L1852.5 775.2L1852.5 775.2L1854.9 775.2L1854.9 775.2L1857.3 775.2L1857.3 775.2L1859.7 775.2L1859.7 775.2L1862.1 775.2L1862.1 775.2L1864.5 775.2L1864.5 775.2L1866.9 775.2L1866.9 775.2L1869.3 775.2L1869.3 775.2L1871.7 775.2L1871.7 775.2L1874.1 775.2L1874.1 775.2L1876.5 775.2L1876.5 775.2L1878.9 775.2L1878.9 775.2L1881.3 775.2L1881.3 775.2L1883.7 775.2L1883.7 775.2L1886.1 775.2L1886.1 775.2L1888.5 775.2L1888.5 775.2L1890.9 775.2L1890.9 775.2L1893.3 775.2L1893.3 775.2L1895.7 775.2L1895.7 775.2L1898.1 775.2L1898.1 775.2L1900.5 775.2L1900.5 775.2L1902.9 775.2L1902.9 775.2L1905.3 775.2L1905.3 775.2L1907.7 775.2L1907.7 775.2L1910.1 775.2L1910.1 775.2L1912.5 775.2L1912.5 775.2L1914.9 775.2L1914.9 775.2L1917.3 775.2L1917.3 775.2L1919.7 775.2L1919.7 775.2L1922.1 775.2L1922.1 775.2L1924.5 775.2L1924.5 775.2L1926.9 775.2L1926.9 775.2L1929.3 775.2L1929.3 775.2L1931.7 775.2L1931.7 775.2L1934.1 775.2L1934.1 775.2L1936.5 775.2L1936.5 775.2L1938.9 775.2L1938.9 775.2L1941.3 775.2L1941.3 775.2L1943.7 775.2L1943.7 775.2L1946.1 775.2L1946.1 775.2L1948.5 775.2L1948.5 775.2L1950.9 775.2L1950.9 775.2L1953.3 775.2L1953.3 775.2L1955.7 775.2L1955.7 775.2L1958.1 775.2L1958.1 775.2L1960.5 775.2L1960.5 775.2L1962.9 775.2L1962.9 775.2" stroke="#f0555a"/>
<path d="M1156.5 770.4L1158.9 770.4L1158.9 770.4L1161.3 770.4L1161.3 770.4L1163.7 770.4L1163.7 770.4L1166.1 770.4L1166.1 770.4L1168.5 770.4L1168.5 770.4L1170.9 770.4L1170.9 770.4L1173.3 770.4L1173.3 770.4L1175.7 770.4L1175.7 770.4L1178.1 770.4L1178.1 770.4L1180.5 770.4L1180.5 770.4L1182.9 770.4L1182.9 770.4L1185.3 770.4L1185.3 770.4L1187.7 770.4L1187.7 770.4L1190.1 770.4L1190.1 770.4L1192.5 770.4L1192.5 770.4L1194.9 770.4L1194.9 770.4L1197.3 770.4L1197.3 770.4L1199.7 770.4L1199.7 770.4L1202.1 770.4L1202.1 770.4L1204.5 770.4L1204.5 770.4L1206.9 770.4L1206.9 770.4L1209.3 770.4L1209.3 770.4L1211.7 770.4L1211.7 770.4L1214.1 770.4L1214.1 770.4L1216.5 770.4L1216.5 770.4L1218.9 770.4L1218.9 770.4L1221.3 770.4L1221.3 770.4L1223.7 770.4L1223.7 770.4L1226.1 770.4L1226.1 770.4L1228.5 770.4L1228.5 770.4L1230.9 770.4L1230.9 770.4L1233.3 770.4L1233.3 770.4L1235.7 770.4L1235.7 770.4L1238.1 770.4L1238.1 770.4L1240.5 770.4L1240.5 770.4L1242.9 770.4L1242.9 770.4L1245.3 770.4L1245.3 770.4L1247.7 770.4L1247.7 770.4L1250.1 770.4L1250.1 768.0L1252.5 768.0L1252.5 768.0L1254.9 768.0L1254.9 768.0L1257.3 768.0L1257.3 768.0L1259.7 768.0L1259.7 768.0L1262.1 768.0L1262.1 768.0L1264.5 768.0L1264.5 768.0L1266.9 768.0L1266.9 768.0L1269.3 768.0L1269.3 768.0L1271.7 768.0L1271.7 768.0L1274.1 768.0L1274.1 768.0L1276.5 768.0L1276.5 768.0L1278.9 768.0L1278.9 768.0L1281.3 768.0L1281.3 768.0L1283.7 768.0L1283.7 768.0L1286.1 768.0L1286.1 768.0L1288.5 768.0L1288.5 768.0L1290.9 768.0L1290.9 768.0L1293.3 768.0L1293.3 768.0L1295.7 768.0L1295.7 768.0L1298.1 768.0L1298.1 768.0L1300.5 768.0L1300.5 768.0L1302.9 768.0L1302.9 768.0L1305.3 768.0L1305.3 768.0L1307.7 768.0L1307.7 768.0L1310.1 768.0L1310.1 768.0L1312.5 768.0L1312.5 768.0L1314.9 768.0L1314.9 768.0L1317.3 768.0L1317.3 768.0L1319.7 768.0L1319.7 768.0L1322.1 768.0L1322.1 768.0L1324.5 768.0L1324.5 768.0L1326.9 768.0L1326.9 765.6L1329.3 765.6L1329.3 765.6L1331.7 765.6L1331.7 765.6L1334.1 765.6L1334.1 765.6L1336.5 765.6L1336.5 765.6L1338.9 765.6L1338.9 765.6L1341.3 765.6L1341.3 765.6L1343.7 765.6L1343.7 765.6L1346.1 765.6L1346.1 765.6L1348.5 765.6L1348.5 763.2L1350.9 763.2L1350.9 763.2L1353.3 763.2L1353.3 763.2L1355.7 763.2L1355.7 763.2L1358.1 763.2L1358.1 763.2L1360.5 763.2L1360.5 760.8L1362.9 760.8L1362.9 760.8L1365.3 760.8L1365.3 760.8L1367.7 760.8L1367.7 758.4L1370.1 758.4L1370.1 758.4L1372.5 758.4L1372.5 758.4L1374.9 758.4L1374.9 756.0L1377.3 756.0L1377.3 756.0L1379.7 756.0L1379.7 753.6L1382.1 753.6L1382.1 753.6L1384.5 753.6L1384.5 751.2L1386.9 751.2L1386.9 748.8L1389.3 748.8L1389.3 746.4L1391.7 746.4L1391.7 744.0L1394.1 744.0L1394.1 744.0L1396.5 744.0L1396.5 741.6L1398.9 741.6L1398.9 736.8L1401.3 736.8L1401.3 734.4L1403.7 734.4L1403.7 732.0L1406.1 732.0L1406.1 729.6L1408.5 729.6L1408.5 724.8L1410.9 724.8L1410.9 720.0L1413.3 720.0L1413.3 717.6L1415.7 717.6L1415.7 712.8L1418.1 712.8L1418.1 708.0L1420.5 708.0L1420.5 703.2L1422.9 703.2L1422.9 696.0L1425.3 696.0L1425.3 691.2L1427.7 691.2L1427.7 684.0L1430.1 684.0L1430.1 679.2L1432.5 679.2L1432.5 672.0L1434.9 672.0L1434.9 664.8L1437.3 664.8L1437.3 655.2L1439.7 655.2L1439.7 648.0L1442.1 648.0L1442.1 638.4L1444.5 638.4L1444.5 631.2L1446.9 631.2L1446.9 621.6L1449.3 621.6L1449.3 609.6L1451.7 609.6L1451.7 600.0L1454.1 600.0L1454.1 590.4L1456.5 590.4L1456.5 578.4L1458.9 578.4L1458.9 566.4L1461.3 566.4L1461.3 554.4L1463.7 554.4L1463.7 542.4L1466.1 542.4L1466.1 530.4L1468.5 530.4L1468.5 516.0L1470.9 516.0L1470.9 504.0L1473.3 504.0L1473.3 489.6L1475.7 489.6L1475.7 477.6L1478.1 477.6L1478.1 463.2L1480.5 463.2L1480.5 448.8L1482.9 448.8L1482.9 434.4L1485.3 434.4L1485.3 420.0L1487.7 420.0L1487.7 405.6L1490.1 405.6L1490.1 388.8L1492.5 388.8L1492.5 374.4L1494.9 374.4L1494.9 360.0L1497.3 360.0L1497.3 345.6L1499.7 345.6L1499.7 331.2L1502.1 331.2L1502.1 316.8L1504.5 316.8L1504.5 304.8L1506.9 304.8L1506.9 290.4L1509.3 290.4L1509.3 276.0L1511.7 276.0L1511.7 264.0L1514.1 264.0L1514.1 252.0L1516.5 252.0L1516.5 240.0L1518.9 240.0L1518.9 228.0L1521.3 228.0L1521.3 218.4L1523.7 218.4L1523.7 208.8L1526.1 208.8L1526.1 199.2L1528.5 199.2L1528.5 189.6L1530.9 189.6L1530.9 182.4L1533.3 182.4L1533.3 175.2L1535.7 175.2L1535.7 168.0L1538.1 168.0L1538.1 163.2L1540.5 163.2L1540.5 158.4L1542.9 158.4L1542.9 156.0L1545.3 156.0L1545.3 153.6L1547.7 153.6L1547.7 151.2L1550.1 151.2L1550.1 151.2L1552.5 151.2L1552.5 151.2L1554.9 151.2L1554.9 153.6L1557.3 153.6L1557.3 156.0L1559.7 156.0L1559.7 158.4L1562.1 158.4L1562.1 163.2L1564.5 163.2L1564.5 168.0L1566.9 168.0L1566.9 172.8L1569.3 172.8L1569.3 180.0L1571.7 180.0L1571.7 187.2L1574.1 187.2L1574.1 196.8L1576.5 196.8L1576.5 206.4L1578.9 206.4L1578.9 216.0L1581.3 216.0L1581.3 225.6L1583.7 225.6L1583.7 237.6L1586.1 237.6L1586.1 249.6L1588.5 249.6L1588.5 261.6L1590.9 261.6L1590.9 276.0L1593.3 276.0L1593.3 288.0L1595.7 288.0L1595.7 302.4L1598.1 302.4L1598.1 316.8L1600.5 316.8L1600.5 331.2L1602.9 331.2L1602.9 345.6L1605.3 345.6L1605.3 360.0L1607.7 360.0L1607.7 374.4L1610.1 374.4L1610.1 391.2L1612.5 391.2L1612.5 405.6L1614.9 405.6L1614.9 420.0L1617.3 420.0L1617.3 434.4L1619.7 434.4L1619.7 448.8L1622.1 448.8L1622.1 463.2L1624.5 463.2L1624.5 477.6L1626.9 477.6L1626.9 492.0L1629.3 492.0L1629.3 506.4L1631.7 506.4L1631.7 520.8L1634.1 520.8L1634.1 532.8L1636.5 532.8L1636.5 544.8L1638.9 544.8L1638.9 559.2L1641.3 559.2L1641.3 571.2L1643.7 571.2L1643.7 580.8L1646.1 580.8L1646.1 592.8L1648.5 592.8L1648.5 604.8L1650.9 604.8L1650.9 614.4L1653.3 614.4L1653.3 624.0L1655.7 624.0L1655.7 633.6L1658.1 633.6L1658.1 643.2L1660.5 643.2L1660.5 650.4L1662.9 650.4L1662.9 660.0L1665.3 660.0L1665.3 667.2L1667.7 667.2L1667.7 674.4L1670.1 674.4L1670.1 681.6L1672.5 681.6L1672.5 688.8L1674.9 688.8L1674.9 693.6L1677.3 693.6L1677.3 700.8L1679.7 700.8L1679.7 705.6L1682.1 705.6L1682.1 710.4L1684.5 710.4L1684.5 715.2L1686.9 715.2L1686.9 720.0L1689.3 720.0L1689.3 722.4L1691.7 722.4L1691.7 727.2L1694.1 727.2L1694.1 729.6L1696.5 729.6L1696.5 734.4L1698.9 734.4L1698.9 736.8L1701.3 736.8L1701.3 739.2L1703.7 739.2L1703.7 741.6L1706.1 741.6L1706.1 744.0L1708.5 744.0L1708.5 746.4L1710.9 746.4L1710.9 748.8L1713.3 748.8L1713.3 751.2L1715.7 751.2L1715.7 751.2L1718.1 751.2L1718.1 753.6L1720.5 753.6L1720.5 756.0L1722.9 756.0L1722.9 756.0L1725.3 756.0L1725.3 758.4L1727.7 758.4L1727.7 758.4L1730.1 758.4L1730.1 758.4L1732.5 758.4L1732.5 760.8L1734.9 760.8L1734.9 760.8L1737.3 760.8L1737.3 760.8L1739.7 760.8L1739.7 763.2L1742.1 763.2L1742.1 763.2L1744.5 763.2L1744.5 763.2L1746.9 763.2L1746.9 763.2L1749.3 763.2L1749.3 763.2L1751.7 763.2L1751.7 765.6L1754.1 765.6L1754.1 765.6L1756.5 765.6L1756.5 765.6L1758.9 765.6L1758.9 765.6L1761.3 765.6L1761.3 765.6L1763.7 765.6L1763.7 765.6L1766.1 765.6L1766.1 765.6L1768.5 765.6L1768.5 765.6L1770.9 765.6L1770.9 765.6L1773.3 765.6L1773.3 765.6L1775.7 765.6L1775.7 768.0L1778.1 768.0L1778.1 768.0L1780.5 768.0L1780.5 768.0L1782.9 768.0L1782.9 768.0L1785.3 768.0L1785.3 768.0L1787.7 768.0L1787.7 768.0L1790.1 768.0L1790.1 768.0L1792.5 768.0L1792.5 768.0L1794.9 768.0L1794.9 768.0L1797.3 768.0L1797.3 768.0L1799.7 768.0L1799.7 768.0L1802.1 768.0L1802.1 768.0L1804.5 768.0L1804.5 768.0L1806.9 768.0L1806.9 768.0L1809.3 768.0L1809.3 768.0L1811.7 768.0L1811.7 768.0L1814.1 768.0L1814.1 768.0L1816.5 768.0L1816.5 768.0L1818.9 768.0L1818.9 768.0L1821.3 768.0L1821.3 768.0L1823.7 768.0L1823.7 768.0L1826.1 768.0L1826.1 768.0L1828.5 768.0L1828.5 768.0L1830.9 768.0L1830.9 768.0L1833.3 768.0L1833.3 768.0L1835.7 768.0L1835.7 768.0L1838.1 768.0L1838.1 768.0L1840.5 768.0L1840.5 768.0L1842.9 768.0L1842.9 768.0L1845.3 768.0L1845.3 768.0L1847.7 768.0L1847.7 768.0L1850.1 768.0L1850.1 768.0L1852.5 768.0L1852.5 768.0L1854.9 768.0L1854.9 768.0L1857.3 768.0L1857.3 768.0L1859.7 768.0L1859.7 768.0L1862.1 768.0L1862.1 768.0L1864.5 768.0L1864.5 768.0L1866.9 768.0L1866.9 768.0L1869.3 768.0L1869.3 768.0L1871.7 768.0L1871.7 768.0L1874.1 768.0L1874.1 768.0L1876.5 768.0L1876.5 770.4L1878.9 770.4L1878.9 770.4L1881.3 770.4L1881.3 770.4L1883.7 770.4L1883.7 770.4L1886.1 770.4L1886.1 770.4L1888.5 770.4L1888.5 770.4L1890.9 770.4L1890.9 770.4L1893.3 770.4L1893.3 770.4L1895.7 770.4L1895.7 770.4L1898.1 770.4L1898.1 770.4L1900.5 770.4L1900.5 770.4L1902.9 770.4L1902.9 770.4L1905.3 770.4L1905.3 770.4L1907.7 770.4L1907.7 770.4L1910.1 770.4L1910.1 770.4L1912.5 770.4L1912.5 770.4L1914.9 770.4L1914.9 770.4L1917.3 770.4L1917.3 770.4L1919.7 770.4L1919.7 770.4L1922.1 770.4L1922.1 770.4L1924.5 770.4L1924.5 770.4L1926.9 770.4L1926.9 770.4L1929.3 770.4L1929.3 770.4L1931.7 770.4L1931.7 770.4L1934.1 770.4L1934.1 770.4L1936.5 770.4L1936.5 770.4L1938.9 770.4L1938.9 770.4L1941.3 770.4L1941.3 770.4L1943.7 770.4L1943.7 770.4L1946.1 770.4L1946.1 770.4L1948.5 770.4L1948.5 770.4L1950.9 770.4L1950.9 770.4L1953.3 770.4L1953.3 770.4L1955.7 770.4L1955.7 770.4L1958.1 770.4L1958.1 770.4L1960.5 770.4L1960.5 770.4L1962.9 770.4L1962.9 770.4" stroke="#4285e6"/>
<path d="M1156.5 770.4L1158.9 770.4L1158.9 770.4L1161.3 770.4L1161.3 770.4L1163.7 770.4L1163.7 770.4L1166.1 770.4L1166.1 770.4L1168.5 770.4L1168.5 770.4L1170.9 770.4L1170.9 770.4L1173.3 770.4L1173.3 770.4L1175.7 770.4L1175.7 770.4L1178.1 770.4L1178.1 770.4L1180.5 770.4L1180.5 770.4L1182.9 770.4L1182.9 770.4L1185.3 770.4L1185.3 770.4L1187.7 770.4L1187.7 770.4L1190.1 770.4L1190.1 770.4L1192.5 770.4L1192.5 770.4L1194.9 770.4L1194.9 770.4L1197.3 770.4L1197.3 770.4L1199.7 770.4L1199.7 770.4L1202.1 770.4L1202.1 770.4L1204.5 770.4L1204.5 770.4L1206.9 770.4L1206.9 770.4L1209.3 770.4L1209.3 770.4L1211.7 770.4L1211.7 770.4L1214.1 770.4L1214.1 770.4L1216.5 770.4L1216.5 770.4L1218.9 770.4L1218.9 770.4L1221.3 770.4L1221.3 770.4L1223.7 770.4L1223.7 770.4L1226.1 770.4L1226.1 770.4L1228.5 770.4L1228.5 770.4L1230.9 770.4L1230.9 770.4L1233.3 770.4L1233.3 770.4L1235.7 770.4L1235.7 770.4L1238.1 770.4L1238.1 770.4L1240.5 770.4L1240.5 770.4L1242.9 770.4L1242.9 770.4L1245.3 770.4L1245.3 768.0L1247.7 768.0L1247.7 768.0L1250.1 768.0L1250.1 768.0L1252.5 768.0L1252.5 768.0L1254.9 768.0L1254.9 768.0L1257.3 768.0L1257.3 768.0L1259.7 768.0L1259.7 768.0L1262.1 768.0L1262.1 768.0L1264.5 768.0L1264.5 768.0L1266.9 768.0L1266.9 768.0L1269.3 768.0L1269.3 768.0L1271.7 768.0L1271.7 768.0L1274.1 768.0L1274.1 768.0L1276.5 768.0L1276.5 768.0L1278.9 768.0L1278.9 768.0L1281.3 768.0L1281.3 768.0L1283.7 768.0L1283.7 768.0L1286.1 768.0L1286.1 768.0L1288.5 768.0L1288.5 768.0L1290.9 768.0L1290.9 768.0L1293.3 768.0L1293.3 768.0L1295.7 768.0L1295.7 768.0L1298.1 768.0L1298.1 768.0L1300.5 768.0L1300.5 768.0L1302.9 768.0L1302.9 768.0L1305.3 768.0L1305.3 768.0L1307.7 768.0L1307.7 768.0L1310.1 768.0L1310.1 768.0L1312.5 768.0L1312.5 768.0L1314.9 768.0L1314.9 768.0L1317.3 768.0L1317.3 768.0L1319.7 768.0L1319.7 768.0L1322.1 768.0L1322.1 768.0L1324.5 768.0L1324.5 768.0L1326.9 768.0L1326.9 768.0L1329.3 768.0L1329.3 768.0L1331.7 768.0L1331.7 765.6L1334.1 765.6L1334.1 765.6L1336.5 765.6L1336.5 765.6L1338.9 765.6L1338.9 765.6L1341.3 765.6L1341.3 765.6L1343.7 765.6L1343.7 765.6L1346.1 765.6L1346.1 765.6L1348.5 765.6L1348.5 765.6L1350.9 765.6L1350.9 765.6L1353.3 765.6L1353.3 763.2L1355.7 763.2L1355.7 763.2L1358.1 763.2L1358.1 763.2L1360.5 763.2L1360.5 763.2L1362.9 763.2L1362.9 760.8L1365.3 760.8L1365.3 760.8L1367.7 760.8L1367.7 760.8L1370.1 760.8L1370.1 758.4L1372.5 758.4L1372.5 758.4L1374.9 758.4L1374.9 756.0L1377.3 756.0L1377.3 756.0L1379.7 756.0L1379.7 753.6L1382.1 753.6L1382.1 751.2L1384.5 751.2L1384.5 751.2L1386.9 751.2L1386.9 748.8L1389.3 748.8L1389.3 746.4L1391.7 746.4L1391.7 744.0L1394.1 744.0L1394.1 741.6L1396.5 741.6L1396.5 739.2L1398.9 739.2L1398.9 734.4L1401.3 734.4L1401.3 732.0L1403.7 732.0L1403.7 727.2L1406.1 727.2L1406.1 724.8L1408.5 724.8L1408.5 720.0L1410.9 720.0L1410.9 715.2L1413.3 715.2L1413.3 710.4L1415.7 710.4L1415.7 703.2L1418.1 703.2L1418.1 698.4L1420.5 698.4L1420.5 691.2L1422.9 691.2L1422.9 684.0L1425.3 684.0L1425.3 676.8L1427.7 676.8L1427.7 669.6L1430.1 669.6L1430.1 662.4L1432.5 662.4L1432.5 652.8L1434.9 652.8L1434.9 643.2L1437.3 643.2L1437.3 633.6L1439.7 633.6L1439.7 624.0L1442.1 624.0L1442.1 614.4L1444.5 614.4L1444.5 602.4L1446.9 602.4L1446.9 590.4L1449.3 590.4L1449.3 580.8L1451.7 580.8L1451.7 566.4L1454.1 566.4L1454.1 554.4L1456.5 554.4L1456.5 542.4L1458.9 542.4L1458.9 528.0L1461.3 528.0L1461.3 516.0L1463.7 516.0L1463.7 501.6L1466.1 501.6L1466.1 487.2L1468.5 487.2L1468.5 472.8L1470.9 472.8L1470.9 458.4L1473.3 458.4L1473.3 446.4L1475.7 446.4L1475.7 432.0L1478.1 432.0L1478.1 417.6L1480.5 417.6L1480.5 403.2L1482.9 403.2L1482.9 388.8L1485.3 388.8L1485.3 374.4L1487.7 374.4L1487.7 360.0L1490.1 360.0L1490.1 348.0L1492.5 348.0L1492.5 333.6L1494.9 333.6L1494.9 321.6L1497.3 321.6L1497.3 309.6L1499.7 309.6L1499.7 297.6L1502.1 297.6L1502.1 285.6L1504.5 285.6L1504.5 273.6L1506.9 273.6L1506.9 264.0L1509.3 264.0L1509.3 254.4L1511.7 254.4L1511.7 247.2L1514.1 247.2L1514.1 237.6L1516.5 237.6L1516.5 230.4L1518.9 230.4L1518.9 223.2L1521.3 223.2L1521.3 218.4L1523.7 218.4L1523.7 213.6L1526.1 213.6L1526.1 208.8L1528.5 208.8L1528.5 204.0L1530.9 204.0L1530.9 201.6L1533.3 201.6L1533.3 199.2L1535.7 199.2L1535.7 196.8L1538.1 196.8L1538.1 196.8L1540.5 196.8L1540.5 196.8L1542.9 196.8L1542.9 196.8L1545.3 196.8L1545.3 196.8L1547.7 196.8L1547.7 199.2L1550.1 199.2L1550.1 201.6L1552.5 201.6L1552.5 204.0L1554.9 204.0L1554.9 206.4L1557.3 206.4L1557.3 211.2L1559.7 211.2L1559.7 216.0L1562.1 216.0L1562.1 220.8L1564.5 220.8L1564.5 228.0L1566.9 228.0L1566.9 235.2L1569.3 235.2L1569.3 242.4L1571.7 242.4L1571.7 252.0L1574.1 252.0L1574.1 261.6L1576.5 261.6L1576.5 271.2L1578.9 271.2L1578.9 283.2L1581.3 283.2L1581.3 292.8L1583.7 292.8L1583.7 304.8L1586.1 304.8L1586.1 319.2L1588.5 319.2L1588.5 331.2L1590.9 331.2L1590.9 345.6L1593.3 345.6L1593.3 357.6L1595.7 357.6L1595.7 372.0L1598.1 372.0L1598.1 386.4L1600.5 386.4L1600.5 400.8L1602.9 400.8L1602.9 415.2L1605.3 415.2L1605.3 429.6L1607.7 429.6L1607.7 444.0L1610.1 444.0L1610.1 458.4L1612.5 458.4L1612.5 472.8L1614.9 472.8L1614.9 487.2L1617.3 487.2L1617.3 501.6L1619.7 501.6L1619.7 516.0L1622.1 516.0L1622.1 530.4L1624.5 530.4L1624.5 542.4L1626.9 542.4L1626.9 556.8L1629.3 556.8L1629.3 568.8L1631.7 568.8L1631.7 580.8L1634.1 580.8L1634.1 592.8L1636.5 592.8L1636.5 604.8L1638.9 604.8L1638.9 616.8L1641.3 616.8L1641.3 626.4L1643.7 626.4L1643.7 636.0L1646.1 636.0L1646.1 645.6L1648.5 645.6L1648.5 655.2L1650.9 655.2L1650.9 664.8L1653.3 664.8L1653.3 672.0L1655.7 672.0L1655.7 679.2L1658.1 679.2L1658.1 686.4L1660.5 686.4L1660.5 693.6L1662.9 693.6L1662.9 700.8L1665.3 700.8L1665.3 705.6L1667.7 705.6L1667.7 710.4L1670.1 710.4L1670.1 717.6L1672.5 717.6L1672.5 722.4L1674.9 722.4L1674.9 724.8L1677.3 724.8L1677.3 729.6L1679.7 729.6L1679.7 734.4L1682.1 734.4L1682.1 736.8L1684.5 736.8L1684.5 739.2L1686.9 739.2L1686.9 744.0L1689.3 744.0L1689.3 746.4L1691.7 746.4L1691.7 748.8L1694.1 748.8L1694.1 748.8L1696.5 748.8L1696.5 751.2L1698.9 751.2L1698.9 753.6L1701.3 753.6L1701.3 756.0L1703.7 756.0L1703.7 756.0L1706.1 756.0L1706.1 758.4L1708.5 758.4L1708.5 758.4L1710.9 758.4L1710.9 760.8L1713.3 760.8L1713.3 760.8L1715.7 760.8L1715.7 760.8L1718.1 760.8L1718.1 763.2L1720.5 763.2L1720.5 763.2L1722.9 763.2L1722.9 763.2L1725.3 763.2L1725.3 763.2L1727.7 763.2L1727.7 765.6L1730.1 765.6L1730.1 765.6L1732.5 765.6L1732.5 765.6L1734.9 765.6L1734.9 765.6L1737.3 765.6L1737.3 765.6L1739.7 765.6L1739.7 765.6L1742.1 765.6L1742.1 765.6L1744.5 765.6L1744.5 765.6L1746.9 765.6L1746.9 765.6L1749.3 765.6L1749.3 768.0L1751.7 768.0L1751.7 768.0L1754.1 768.0L1754.1 768.0L1756.5 768.0L1756.5 768.0L1758.9 768.0L1758.9 768.0L1761.3 768.0L1761.3 768.0L1763.7 768.0L1763.7 768.0L1766.1 768.0L1766.1 768.0L1768.5 768.0L1768.5 768.0L1770.9 768.0L1770.9 768.0L1773.3 768.0L1773.3 768.0L1775.7 768.0L1775.7 768.0L1778.1 768.0L1778.1 768.0L1780.5 768.0L1780.5 768.0L1782.9 768.0L1782.9 768.0L1785.3 768.0L1785.3 768.0L1787.7 768.0L1787.7 768.0L1790.1 768.0L1790.1 768.0L1792.5 768.0L1792.5 768.0L1794.9 768.0L1794.9 768.0L1797.3 768.0L1797.3 768.0L1799.7 768.0L1799.7 768.0L1802.1 768.0L1802.1 768.0L1804.5 768.0L1804.5 768.0L1806.9 768.0L1806.9 768.0L1809.3 768.0L1809.3 768.0L1811.7 768.0L1811.7 768.0L1814.1 768.0L1814.1 768.0L1816.5 768.0L1816.5 768.0L1818.9 768.0L1818.9 768.0L1821.3 768.0L1821.3 768.0L1823.7 768.0L1823.7 768.0L1826.1 768.0L1826.1 768.0L1828.5 768.0L1828.5 770.4L1830.9 770.4L1830.9 770.4L1833.3 770.4L1833.3 770.4L1835.7 770.4L1835.7 770.4L1838.1 770.4L1838.1 770.4L1840.5 770.4L1840.5 770.4L1842.9 770.4L1842.9 770.4L1845.3 770.4L1845.3 770.4L1847.7 770.4L1847.7 770.4L1850.1 770.4L1850.1 770.4L1852.5 770.4L1852.5 770.4L1854.9 770.4L1854.9 770.4L1857.3 770.4L1857.3 770.4L1859.7 770.4L1859.7 770.4L1862.1 770.4L1862.1 770.4L1864.5 770.4L1864.5 770.4L1866.9 770.4L1866.9 770.4L1869.3 770.4L1869.3 770.4L1871.7 770.4L1871.7 770.4L1874.1 770.4L1874.1 770.4L1876.5 770.4L1876.5 770.4L1878.9 770.4L1878.9 770.4L1881.3 770.4L1881.3 770.4L1883.7 770.4L1883.7 770.4L1886.1 770.4L1886.1 770.4L1888.5 770.4L1888.5 770.4L1890.9 770.4L1890.9 770.4L1893.3 770.4L1893.3 770.4L1895.7 770.4L1895.7 770.4L1898.1 770.4L1898.1 770.4L1900.5 770.4L1900.5 770.4L1902.9 770.4L1902.9 770.4L1905.3 770.4L1905.3 770.4L1907.7 770.4L1907.7 770.4L1910.1 770.4L1910.1 770.4L1912.5 770.4L1912.5 770.4L1914.9 770.4L1914.9 770.4L1917.3 770.4L1917.3 770.4L1919.7 770.4L1919.7 770.4L1922.1 770.4L1922.1 770.4L1924.5 770.4L1924.5 770.4L1926.9 770.4L1926.9 770.4L1929.3 770.4L1929.3 770.4L1931.7 770.4L1931.7 770.4L1934.1 770.4L1934.1 770.4L1936.5 770.4L1936.5 770.4L1938.9 770.4L1938.9 770.4L1941.3 770.4L1941.3 770.4L1943.7 770.4L1943.7 770.4L1946.1 770.4L1946.1 770.4L1948.5 770.4L1948.5 770.4L1950.9 770.4L1950.9 770.4L1953.3 770.4L1953.3 770.4L1955.7 770.4L1955.7 770.4L1958.1 770.4L1958.1 770.4L1960.5 770.4L1960.5 770.4L1962.9 770.4L1962.9 770.4" stroke="#50b680"/>
</g>
<line x1="1525.2" y1="151.5" x2="1525.2" y2="158.3" stroke="#111" stroke-width="3.6"/>
<line x1="1525.3" y1="164.8" x2="1528.8" y2="759.5" stroke="#111" stroke-width="3.6" stroke-dasharray="13.5 14.17"/>
<path d="M1524.5 137 L1525 133 L1538 133" stroke="#000" stroke-width="3.5" fill="none"/>
<path d="M1534 128.5 L1551.5 133.2 L1534 138 Z" fill="#000"/>
<rect x="1156.5" y="83.5" width="806.5" height="705.3" fill="none" stroke="#222" stroke-width="3.2"/>
<path d="M1156.5 788.8V800.0M1256.4 788.8V794.0M1356.3 788.8V800.0M1458.2 788.8V794.0M1560.0 788.8V800.0M1660.0 788.8V794.0M1760.0 788.8V800.0M1861.5 788.8V794.0M1963.0 788.8V800.0" stroke="#222" stroke-width="3.4" fill="none"/>
<text x="1090.96" y="867.00" font-size="72.00" textLength="121.62" lengthAdjust="spacingAndGlyphs" xml:space="preserve">37.5</text>
<text x="1318.42" y="867.00" font-size="72.00" textLength="70.32" lengthAdjust="spacingAndGlyphs" xml:space="preserve">38</text>
<text x="1497.78" y="867.00" font-size="72.00" textLength="117.40" lengthAdjust="spacingAndGlyphs" xml:space="preserve">38.5</text>
<text x="1725.99" y="867.00" font-size="72.00" textLength="70.99" lengthAdjust="spacingAndGlyphs" xml:space="preserve">39</text>
<text x="1901.10" y="867.00" font-size="72.00" textLength="120.35" lengthAdjust="spacingAndGlyphs" xml:space="preserve">39.5</text>
<text x="1414.86" y="929.60" font-size="73.00" textLength="72.11" lengthAdjust="spacingAndGlyphs" xml:space="preserve">2θ</text>
<text x="1519.60" y="929.60" font-size="73.00" textLength="238.92" lengthAdjust="spacingAndGlyphs" xml:space="preserve">angle (°)</text>
<text transform="translate(1127.00 733.75) rotate(-90)" font-size="75.00" textLength="599.28" lengthAdjust="spacingAndGlyphs" xml:space="preserve">Intensity (arb. units)</text>
<rect x="1656.4" y="98.3" width="293" height="303.6" fill="#fff" stroke="#222" stroke-width="3.2"/>
<line x1="1665" y1="139.6" x2="1789.5" y2="139.6" stroke="#5a5a5a" stroke-width="3.2"/>
<text x="1800.16" y="158.70" font-size="64.00" textLength="141.90" lengthAdjust="spacingAndGlyphs" xml:space="preserve">Initial</text>
<line x1="1665" y1="212.2" x2="1789.5" y2="212.2" stroke="#f0555a" stroke-width="3.2"/>
<text x="1801.95" y="231.80" font-size="64.00" textLength="91.22" lengthAdjust="spacingAndGlyphs" xml:space="preserve">900</text>
<line x1="1665" y1="288.8" x2="1789.5" y2="288.8" stroke="#4285e6" stroke-width="3.2"/>
<text x="1803.55" y="308.20" font-size="64.00" textLength="117.14" lengthAdjust="spacingAndGlyphs" xml:space="preserve">1600</text>
<line x1="1665" y1="361.8" x2="1789.5" y2="361.8" stroke="#50b680" stroke-width="3.2"/>
<text x="1800.97" y="381.00" font-size="64.00" textLength="119.77" lengthAdjust="spacingAndGlyphs" xml:space="preserve">2500</text>
</svg></body></html>
